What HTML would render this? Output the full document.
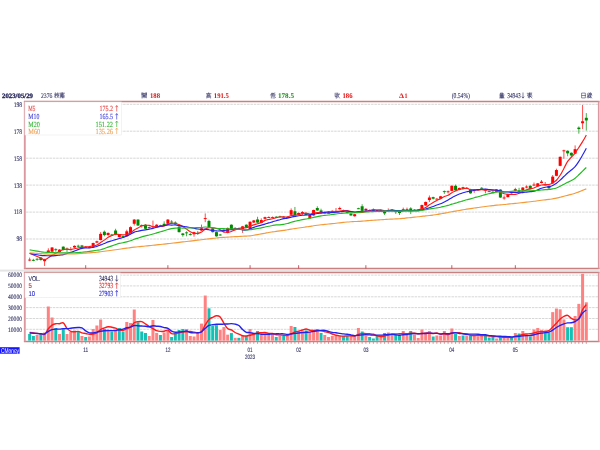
<!DOCTYPE html>
<html><head><meta charset="utf-8"><style>html,body{margin:0;padding:0;background:#fff;width:600px;height:450px;overflow:hidden}svg{display:block;filter:blur(0.35px)}text{text-rendering:geometricPrecision}</style></head>
<body><svg width="600" height="450" viewBox="0 0 600 450"><rect x="0" y="269.6" width="600" height="2" fill="#e4e4e4"/><line x1="26" y1="104.3" x2="598" y2="104.3" stroke="#cdcdcd" stroke-width="0.8" stroke-dasharray="2.5 0.85"/><text x="22.2" y="106.7" font-size="7" fill="#2b2b5e" text-anchor="end" font-weight="normal" font-family="Liberation Serif" textLength="8.55" lengthAdjust="spacingAndGlyphs" stroke="#2b2b5e" stroke-width="0.1">198</text><line x1="26" y1="131.2" x2="598" y2="131.2" stroke="#cdcdcd" stroke-width="0.8" stroke-dasharray="2.5 0.85"/><text x="22.2" y="133.64000000000001" font-size="7" fill="#2b2b5e" text-anchor="end" font-weight="normal" font-family="Liberation Serif" textLength="8.55" lengthAdjust="spacingAndGlyphs" stroke="#2b2b5e" stroke-width="0.1">178</text><line x1="26" y1="158.2" x2="598" y2="158.2" stroke="#cdcdcd" stroke-width="0.8" stroke-dasharray="2.5 0.85"/><text x="22.2" y="160.58" font-size="7" fill="#2b2b5e" text-anchor="end" font-weight="normal" font-family="Liberation Serif" textLength="8.55" lengthAdjust="spacingAndGlyphs" stroke="#2b2b5e" stroke-width="0.1">158</text><line x1="26" y1="185.1" x2="598" y2="185.1" stroke="#cdcdcd" stroke-width="0.8" stroke-dasharray="2.5 0.85"/><text x="22.2" y="187.52" font-size="7" fill="#2b2b5e" text-anchor="end" font-weight="normal" font-family="Liberation Serif" textLength="8.55" lengthAdjust="spacingAndGlyphs" stroke="#2b2b5e" stroke-width="0.1">138</text><line x1="26" y1="212.1" x2="598" y2="212.1" stroke="#cdcdcd" stroke-width="0.8" stroke-dasharray="2.5 0.85"/><text x="22.2" y="214.46" font-size="7" fill="#2b2b5e" text-anchor="end" font-weight="normal" font-family="Liberation Serif" textLength="8.55" lengthAdjust="spacingAndGlyphs" stroke="#2b2b5e" stroke-width="0.1">118</text><line x1="26" y1="239.0" x2="598" y2="239.0" stroke="#cdcdcd" stroke-width="0.8" stroke-dasharray="2.5 0.85"/><text x="22.2" y="241.4" font-size="7" fill="#2b2b5e" text-anchor="end" font-weight="normal" font-family="Liberation Serif" textLength="5.7" lengthAdjust="spacingAndGlyphs" stroke="#2b2b5e" stroke-width="0.1">98</text><line x1="26" y1="329.3" x2="598" y2="329.3" stroke="#cdcdcd" stroke-width="0.8" stroke-dasharray="2.5 0.85"/><text x="22" y="331.65" font-size="6.6" fill="#2b2b5e" text-anchor="end" font-weight="normal" font-family="Liberation Serif" textLength="14" lengthAdjust="spacingAndGlyphs" stroke="#2b2b5e" stroke-width="0.1">10000</text><line x1="26" y1="318.5" x2="598" y2="318.5" stroke="#cdcdcd" stroke-width="0.8" stroke-dasharray="2.5 0.85"/><text x="22" y="320.8" font-size="6.6" fill="#2b2b5e" text-anchor="end" font-weight="normal" font-family="Liberation Serif" textLength="14" lengthAdjust="spacingAndGlyphs" stroke="#2b2b5e" stroke-width="0.1">20000</text><line x1="26" y1="307.6" x2="598" y2="307.6" stroke="#cdcdcd" stroke-width="0.8" stroke-dasharray="2.5 0.85"/><text x="22" y="309.95" font-size="6.6" fill="#2b2b5e" text-anchor="end" font-weight="normal" font-family="Liberation Serif" textLength="14" lengthAdjust="spacingAndGlyphs" stroke="#2b2b5e" stroke-width="0.1">30000</text><line x1="26" y1="296.8" x2="598" y2="296.8" stroke="#cdcdcd" stroke-width="0.8" stroke-dasharray="2.5 0.85"/><text x="22" y="299.1" font-size="6.6" fill="#2b2b5e" text-anchor="end" font-weight="normal" font-family="Liberation Serif" textLength="14" lengthAdjust="spacingAndGlyphs" stroke="#2b2b5e" stroke-width="0.1">40000</text><line x1="26" y1="285.9" x2="598" y2="285.9" stroke="#cdcdcd" stroke-width="0.8" stroke-dasharray="2.5 0.85"/><text x="22" y="288.25" font-size="6.6" fill="#2b2b5e" text-anchor="end" font-weight="normal" font-family="Liberation Serif" textLength="14" lengthAdjust="spacingAndGlyphs" stroke="#2b2b5e" stroke-width="0.1">50000</text><line x1="26" y1="275.1" x2="598" y2="275.1" stroke="#cdcdcd" stroke-width="0.8" stroke-dasharray="2.5 0.85"/><text x="22" y="277.4" font-size="6.6" fill="#2b2b5e" text-anchor="end" font-weight="normal" font-family="Liberation Serif" textLength="14" lengthAdjust="spacingAndGlyphs" stroke="#2b2b5e" stroke-width="0.1">60000</text><line x1="23.9" y1="101.5" x2="599.6" y2="101.5" stroke="#c98080" stroke-width="1.3"/><line x1="23.9" y1="268.5" x2="599.6" y2="268.5" stroke="#c98080" stroke-width="1.3"/><line x1="24.8" y1="101.5" x2="24.8" y2="268.5" stroke="#dc98a0" stroke-width="1.9"/><line x1="598.7" y1="101.5" x2="598.7" y2="268.5" stroke="#dc98a0" stroke-width="1.6"/><line x1="23.9" y1="272.5" x2="599.6" y2="272.5" stroke="#c98080" stroke-width="1.3"/><line x1="23.9" y1="341.5" x2="599.6" y2="341.5" stroke="#c98080" stroke-width="1.3"/><line x1="24.8" y1="272.5" x2="24.8" y2="341.5" stroke="#dc98a0" stroke-width="1.9"/><line x1="598.7" y1="272.5" x2="598.7" y2="341.5" stroke="#dc98a0" stroke-width="1.6"/><line x1="33.39" y1="341.8" y2="343.9" x2="33.39" stroke="#c87a80" stroke-width="0.75"/><line x1="37.12" y1="341.8" y2="343.9" x2="37.12" stroke="#c87a80" stroke-width="0.75"/><line x1="40.86" y1="341.8" y2="343.9" x2="40.86" stroke="#c87a80" stroke-width="0.75"/><line x1="44.59" y1="341.8" y2="343.9" x2="44.59" stroke="#c87a80" stroke-width="0.75"/><line x1="48.33" y1="341.8" y2="343.9" x2="48.33" stroke="#c87a80" stroke-width="0.75"/><line x1="52.07" y1="341.8" y2="343.9" x2="52.07" stroke="#c87a80" stroke-width="0.75"/><line x1="55.80" y1="341.8" y2="343.9" x2="55.80" stroke="#c87a80" stroke-width="0.75"/><line x1="59.54" y1="341.8" y2="343.9" x2="59.54" stroke="#c87a80" stroke-width="0.75"/><line x1="63.27" y1="341.8" y2="343.9" x2="63.27" stroke="#c87a80" stroke-width="0.75"/><line x1="67.01" y1="341.8" y2="343.9" x2="67.01" stroke="#c87a80" stroke-width="0.75"/><line x1="70.75" y1="341.8" y2="343.9" x2="70.75" stroke="#c87a80" stroke-width="0.75"/><line x1="74.48" y1="341.8" y2="343.9" x2="74.48" stroke="#c87a80" stroke-width="0.75"/><line x1="78.22" y1="341.8" y2="343.9" x2="78.22" stroke="#c87a80" stroke-width="0.75"/><line x1="81.95" y1="341.8" y2="343.9" x2="81.95" stroke="#c87a80" stroke-width="0.75"/><line x1="85.69" y1="341.8" y2="343.9" x2="85.69" stroke="#c87a80" stroke-width="0.75"/><line x1="89.43" y1="341.8" y2="343.9" x2="89.43" stroke="#c87a80" stroke-width="0.75"/><line x1="93.16" y1="341.8" y2="343.9" x2="93.16" stroke="#c87a80" stroke-width="0.75"/><line x1="96.90" y1="341.8" y2="343.9" x2="96.90" stroke="#c87a80" stroke-width="0.75"/><line x1="100.63" y1="341.8" y2="343.9" x2="100.63" stroke="#c87a80" stroke-width="0.75"/><line x1="104.37" y1="341.8" y2="343.9" x2="104.37" stroke="#c87a80" stroke-width="0.75"/><line x1="108.11" y1="341.8" y2="343.9" x2="108.11" stroke="#c87a80" stroke-width="0.75"/><line x1="111.84" y1="341.8" y2="343.9" x2="111.84" stroke="#c87a80" stroke-width="0.75"/><line x1="115.58" y1="341.8" y2="343.9" x2="115.58" stroke="#c87a80" stroke-width="0.75"/><line x1="119.31" y1="341.8" y2="343.9" x2="119.31" stroke="#c87a80" stroke-width="0.75"/><line x1="123.05" y1="341.8" y2="343.9" x2="123.05" stroke="#c87a80" stroke-width="0.75"/><line x1="126.79" y1="341.8" y2="343.9" x2="126.79" stroke="#c87a80" stroke-width="0.75"/><line x1="130.52" y1="341.8" y2="343.9" x2="130.52" stroke="#c87a80" stroke-width="0.75"/><line x1="134.26" y1="341.8" y2="343.9" x2="134.26" stroke="#c87a80" stroke-width="0.75"/><line x1="137.99" y1="341.8" y2="343.9" x2="137.99" stroke="#c87a80" stroke-width="0.75"/><line x1="141.73" y1="341.8" y2="343.9" x2="141.73" stroke="#c87a80" stroke-width="0.75"/><line x1="145.47" y1="341.8" y2="343.9" x2="145.47" stroke="#c87a80" stroke-width="0.75"/><line x1="149.20" y1="341.8" y2="343.9" x2="149.20" stroke="#c87a80" stroke-width="0.75"/><line x1="152.94" y1="341.8" y2="343.9" x2="152.94" stroke="#c87a80" stroke-width="0.75"/><line x1="156.67" y1="341.8" y2="343.9" x2="156.67" stroke="#c87a80" stroke-width="0.75"/><line x1="160.41" y1="341.8" y2="343.9" x2="160.41" stroke="#c87a80" stroke-width="0.75"/><line x1="164.15" y1="341.8" y2="343.9" x2="164.15" stroke="#c87a80" stroke-width="0.75"/><line x1="167.88" y1="341.8" y2="343.9" x2="167.88" stroke="#c87a80" stroke-width="0.75"/><line x1="171.62" y1="341.8" y2="343.9" x2="171.62" stroke="#c87a80" stroke-width="0.75"/><line x1="175.35" y1="341.8" y2="343.9" x2="175.35" stroke="#c87a80" stroke-width="0.75"/><line x1="179.09" y1="341.8" y2="343.9" x2="179.09" stroke="#c87a80" stroke-width="0.75"/><line x1="182.83" y1="341.8" y2="343.9" x2="182.83" stroke="#c87a80" stroke-width="0.75"/><line x1="186.56" y1="341.8" y2="343.9" x2="186.56" stroke="#c87a80" stroke-width="0.75"/><line x1="190.30" y1="341.8" y2="343.9" x2="190.30" stroke="#c87a80" stroke-width="0.75"/><line x1="194.03" y1="341.8" y2="343.9" x2="194.03" stroke="#c87a80" stroke-width="0.75"/><line x1="197.77" y1="341.8" y2="343.9" x2="197.77" stroke="#c87a80" stroke-width="0.75"/><line x1="201.51" y1="341.8" y2="343.9" x2="201.51" stroke="#c87a80" stroke-width="0.75"/><line x1="205.24" y1="341.8" y2="343.9" x2="205.24" stroke="#c87a80" stroke-width="0.75"/><line x1="208.98" y1="341.8" y2="343.9" x2="208.98" stroke="#c87a80" stroke-width="0.75"/><line x1="212.71" y1="341.8" y2="343.9" x2="212.71" stroke="#c87a80" stroke-width="0.75"/><line x1="216.45" y1="341.8" y2="343.9" x2="216.45" stroke="#c87a80" stroke-width="0.75"/><line x1="220.19" y1="341.8" y2="343.9" x2="220.19" stroke="#c87a80" stroke-width="0.75"/><line x1="223.92" y1="341.8" y2="343.9" x2="223.92" stroke="#c87a80" stroke-width="0.75"/><line x1="227.66" y1="341.8" y2="343.9" x2="227.66" stroke="#c87a80" stroke-width="0.75"/><line x1="231.39" y1="341.8" y2="343.9" x2="231.39" stroke="#c87a80" stroke-width="0.75"/><line x1="235.13" y1="341.8" y2="343.9" x2="235.13" stroke="#c87a80" stroke-width="0.75"/><line x1="238.87" y1="341.8" y2="343.9" x2="238.87" stroke="#c87a80" stroke-width="0.75"/><line x1="242.60" y1="341.8" y2="343.9" x2="242.60" stroke="#c87a80" stroke-width="0.75"/><line x1="246.34" y1="341.8" y2="343.9" x2="246.34" stroke="#c87a80" stroke-width="0.75"/><line x1="250.07" y1="341.8" y2="343.9" x2="250.07" stroke="#c87a80" stroke-width="0.75"/><line x1="253.81" y1="341.8" y2="343.9" x2="253.81" stroke="#c87a80" stroke-width="0.75"/><line x1="257.55" y1="341.8" y2="343.9" x2="257.55" stroke="#c87a80" stroke-width="0.75"/><line x1="261.28" y1="341.8" y2="343.9" x2="261.28" stroke="#c87a80" stroke-width="0.75"/><line x1="265.02" y1="341.8" y2="343.9" x2="265.02" stroke="#c87a80" stroke-width="0.75"/><line x1="268.75" y1="341.8" y2="343.9" x2="268.75" stroke="#c87a80" stroke-width="0.75"/><line x1="272.49" y1="341.8" y2="343.9" x2="272.49" stroke="#c87a80" stroke-width="0.75"/><line x1="276.23" y1="341.8" y2="343.9" x2="276.23" stroke="#c87a80" stroke-width="0.75"/><line x1="279.96" y1="341.8" y2="343.9" x2="279.96" stroke="#c87a80" stroke-width="0.75"/><line x1="283.70" y1="341.8" y2="343.9" x2="283.70" stroke="#c87a80" stroke-width="0.75"/><line x1="287.43" y1="341.8" y2="343.9" x2="287.43" stroke="#c87a80" stroke-width="0.75"/><line x1="291.17" y1="341.8" y2="343.9" x2="291.17" stroke="#c87a80" stroke-width="0.75"/><line x1="294.91" y1="341.8" y2="343.9" x2="294.91" stroke="#c87a80" stroke-width="0.75"/><line x1="298.64" y1="341.8" y2="343.9" x2="298.64" stroke="#c87a80" stroke-width="0.75"/><line x1="302.38" y1="341.8" y2="343.9" x2="302.38" stroke="#c87a80" stroke-width="0.75"/><line x1="306.11" y1="341.8" y2="343.9" x2="306.11" stroke="#c87a80" stroke-width="0.75"/><line x1="309.85" y1="341.8" y2="343.9" x2="309.85" stroke="#c87a80" stroke-width="0.75"/><line x1="313.59" y1="341.8" y2="343.9" x2="313.59" stroke="#c87a80" stroke-width="0.75"/><line x1="317.32" y1="341.8" y2="343.9" x2="317.32" stroke="#c87a80" stroke-width="0.75"/><line x1="321.06" y1="341.8" y2="343.9" x2="321.06" stroke="#c87a80" stroke-width="0.75"/><line x1="324.79" y1="341.8" y2="343.9" x2="324.79" stroke="#c87a80" stroke-width="0.75"/><line x1="328.53" y1="341.8" y2="343.9" x2="328.53" stroke="#c87a80" stroke-width="0.75"/><line x1="332.27" y1="341.8" y2="343.9" x2="332.27" stroke="#c87a80" stroke-width="0.75"/><line x1="336.00" y1="341.8" y2="343.9" x2="336.00" stroke="#c87a80" stroke-width="0.75"/><line x1="339.74" y1="341.8" y2="343.9" x2="339.74" stroke="#c87a80" stroke-width="0.75"/><line x1="343.47" y1="341.8" y2="343.9" x2="343.47" stroke="#c87a80" stroke-width="0.75"/><line x1="347.21" y1="341.8" y2="343.9" x2="347.21" stroke="#c87a80" stroke-width="0.75"/><line x1="350.95" y1="341.8" y2="343.9" x2="350.95" stroke="#c87a80" stroke-width="0.75"/><line x1="354.68" y1="341.8" y2="343.9" x2="354.68" stroke="#c87a80" stroke-width="0.75"/><line x1="358.42" y1="341.8" y2="343.9" x2="358.42" stroke="#c87a80" stroke-width="0.75"/><line x1="362.15" y1="341.8" y2="343.9" x2="362.15" stroke="#c87a80" stroke-width="0.75"/><line x1="365.89" y1="341.8" y2="343.9" x2="365.89" stroke="#c87a80" stroke-width="0.75"/><line x1="369.63" y1="341.8" y2="343.9" x2="369.63" stroke="#c87a80" stroke-width="0.75"/><line x1="373.36" y1="341.8" y2="343.9" x2="373.36" stroke="#c87a80" stroke-width="0.75"/><line x1="377.10" y1="341.8" y2="343.9" x2="377.10" stroke="#c87a80" stroke-width="0.75"/><line x1="380.83" y1="341.8" y2="343.9" x2="380.83" stroke="#c87a80" stroke-width="0.75"/><line x1="384.57" y1="341.8" y2="343.9" x2="384.57" stroke="#c87a80" stroke-width="0.75"/><line x1="388.31" y1="341.8" y2="343.9" x2="388.31" stroke="#c87a80" stroke-width="0.75"/><line x1="392.04" y1="341.8" y2="343.9" x2="392.04" stroke="#c87a80" stroke-width="0.75"/><line x1="395.78" y1="341.8" y2="343.9" x2="395.78" stroke="#c87a80" stroke-width="0.75"/><line x1="399.51" y1="341.8" y2="343.9" x2="399.51" stroke="#c87a80" stroke-width="0.75"/><line x1="403.25" y1="341.8" y2="343.9" x2="403.25" stroke="#c87a80" stroke-width="0.75"/><line x1="406.99" y1="341.8" y2="343.9" x2="406.99" stroke="#c87a80" stroke-width="0.75"/><line x1="410.72" y1="341.8" y2="343.9" x2="410.72" stroke="#c87a80" stroke-width="0.75"/><line x1="414.46" y1="341.8" y2="343.9" x2="414.46" stroke="#c87a80" stroke-width="0.75"/><line x1="418.19" y1="341.8" y2="343.9" x2="418.19" stroke="#c87a80" stroke-width="0.75"/><line x1="421.93" y1="341.8" y2="343.9" x2="421.93" stroke="#c87a80" stroke-width="0.75"/><line x1="425.67" y1="341.8" y2="343.9" x2="425.67" stroke="#c87a80" stroke-width="0.75"/><line x1="429.40" y1="341.8" y2="343.9" x2="429.40" stroke="#c87a80" stroke-width="0.75"/><line x1="433.14" y1="341.8" y2="343.9" x2="433.14" stroke="#c87a80" stroke-width="0.75"/><line x1="436.87" y1="341.8" y2="343.9" x2="436.87" stroke="#c87a80" stroke-width="0.75"/><line x1="440.61" y1="341.8" y2="343.9" x2="440.61" stroke="#c87a80" stroke-width="0.75"/><line x1="444.35" y1="341.8" y2="343.9" x2="444.35" stroke="#c87a80" stroke-width="0.75"/><line x1="448.08" y1="341.8" y2="343.9" x2="448.08" stroke="#c87a80" stroke-width="0.75"/><line x1="451.82" y1="341.8" y2="343.9" x2="451.82" stroke="#c87a80" stroke-width="0.75"/><line x1="455.55" y1="341.8" y2="343.9" x2="455.55" stroke="#c87a80" stroke-width="0.75"/><line x1="459.29" y1="341.8" y2="343.9" x2="459.29" stroke="#c87a80" stroke-width="0.75"/><line x1="463.03" y1="341.8" y2="343.9" x2="463.03" stroke="#c87a80" stroke-width="0.75"/><line x1="466.76" y1="341.8" y2="343.9" x2="466.76" stroke="#c87a80" stroke-width="0.75"/><line x1="470.50" y1="341.8" y2="343.9" x2="470.50" stroke="#c87a80" stroke-width="0.75"/><line x1="474.23" y1="341.8" y2="343.9" x2="474.23" stroke="#c87a80" stroke-width="0.75"/><line x1="477.97" y1="341.8" y2="343.9" x2="477.97" stroke="#c87a80" stroke-width="0.75"/><line x1="481.71" y1="341.8" y2="343.9" x2="481.71" stroke="#c87a80" stroke-width="0.75"/><line x1="485.44" y1="341.8" y2="343.9" x2="485.44" stroke="#c87a80" stroke-width="0.75"/><line x1="489.18" y1="341.8" y2="343.9" x2="489.18" stroke="#c87a80" stroke-width="0.75"/><line x1="492.91" y1="341.8" y2="343.9" x2="492.91" stroke="#c87a80" stroke-width="0.75"/><line x1="496.65" y1="341.8" y2="343.9" x2="496.65" stroke="#c87a80" stroke-width="0.75"/><line x1="500.39" y1="341.8" y2="343.9" x2="500.39" stroke="#c87a80" stroke-width="0.75"/><line x1="504.12" y1="341.8" y2="343.9" x2="504.12" stroke="#c87a80" stroke-width="0.75"/><line x1="507.86" y1="341.8" y2="343.9" x2="507.86" stroke="#c87a80" stroke-width="0.75"/><line x1="511.59" y1="341.8" y2="343.9" x2="511.59" stroke="#c87a80" stroke-width="0.75"/><line x1="515.33" y1="341.8" y2="343.9" x2="515.33" stroke="#c87a80" stroke-width="0.75"/><line x1="519.07" y1="341.8" y2="343.9" x2="519.07" stroke="#c87a80" stroke-width="0.75"/><line x1="522.80" y1="341.8" y2="343.9" x2="522.80" stroke="#c87a80" stroke-width="0.75"/><line x1="526.54" y1="341.8" y2="343.9" x2="526.54" stroke="#c87a80" stroke-width="0.75"/><line x1="530.27" y1="341.8" y2="343.9" x2="530.27" stroke="#c87a80" stroke-width="0.75"/><line x1="534.01" y1="341.8" y2="343.9" x2="534.01" stroke="#c87a80" stroke-width="0.75"/><line x1="537.75" y1="341.8" y2="343.9" x2="537.75" stroke="#c87a80" stroke-width="0.75"/><line x1="541.48" y1="341.8" y2="343.9" x2="541.48" stroke="#c87a80" stroke-width="0.75"/><line x1="545.22" y1="341.8" y2="343.9" x2="545.22" stroke="#c87a80" stroke-width="0.75"/><line x1="548.95" y1="341.8" y2="343.9" x2="548.95" stroke="#c87a80" stroke-width="0.75"/><line x1="552.69" y1="341.8" y2="343.9" x2="552.69" stroke="#c87a80" stroke-width="0.75"/><line x1="556.43" y1="341.8" y2="343.9" x2="556.43" stroke="#c87a80" stroke-width="0.75"/><line x1="560.16" y1="341.8" y2="343.9" x2="560.16" stroke="#c87a80" stroke-width="0.75"/><line x1="563.90" y1="341.8" y2="343.9" x2="563.90" stroke="#c87a80" stroke-width="0.75"/><line x1="567.63" y1="341.8" y2="343.9" x2="567.63" stroke="#c87a80" stroke-width="0.75"/><line x1="571.37" y1="341.8" y2="343.9" x2="571.37" stroke="#c87a80" stroke-width="0.75"/><line x1="575.11" y1="341.8" y2="343.9" x2="575.11" stroke="#c87a80" stroke-width="0.75"/><line x1="578.84" y1="341.8" y2="343.9" x2="578.84" stroke="#c87a80" stroke-width="0.75"/><line x1="582.58" y1="341.8" y2="343.9" x2="582.58" stroke="#c87a80" stroke-width="0.75"/><line x1="586.31" y1="341.8" y2="343.9" x2="586.31" stroke="#c87a80" stroke-width="0.75"/><line x1="85.69" y1="265.2" x2="85.69" y2="268.6" stroke="#c04050" stroke-width="0.85"/><line x1="167.88" y1="265.2" x2="167.88" y2="268.6" stroke="#c04050" stroke-width="0.85"/><line x1="250.07" y1="265.2" x2="250.07" y2="268.6" stroke="#c04050" stroke-width="0.85"/><line x1="298.64" y1="265.2" x2="298.64" y2="268.6" stroke="#c04050" stroke-width="0.85"/><line x1="365.89" y1="265.2" x2="365.89" y2="268.6" stroke="#c04050" stroke-width="0.85"/><line x1="451.82" y1="265.2" x2="451.82" y2="268.6" stroke="#c04050" stroke-width="0.85"/><line x1="515.33" y1="265.2" x2="515.33" y2="268.6" stroke="#c04050" stroke-width="0.85"/><text x="85.69" y="351.5" font-size="6.5" fill="#2b2b5e" text-anchor="middle" font-weight="normal" font-family="Liberation Sans" textLength="5" lengthAdjust="spacingAndGlyphs" stroke="#2b2b5e" stroke-width="0.1">11</text><text x="167.882" y="351.5" font-size="6.5" fill="#2b2b5e" text-anchor="middle" font-weight="normal" font-family="Liberation Sans" textLength="5" lengthAdjust="spacingAndGlyphs" stroke="#2b2b5e" stroke-width="0.1">12</text><text x="250.074" y="351.5" font-size="6.5" fill="#2b2b5e" text-anchor="middle" font-weight="normal" font-family="Liberation Sans" textLength="5" lengthAdjust="spacingAndGlyphs" stroke="#2b2b5e" stroke-width="0.1">01</text><text x="298.642" y="351.5" font-size="6.5" fill="#2b2b5e" text-anchor="middle" font-weight="normal" font-family="Liberation Sans" textLength="5" lengthAdjust="spacingAndGlyphs" stroke="#2b2b5e" stroke-width="0.1">02</text><text x="365.89" y="351.5" font-size="6.5" fill="#2b2b5e" text-anchor="middle" font-weight="normal" font-family="Liberation Sans" textLength="5" lengthAdjust="spacingAndGlyphs" stroke="#2b2b5e" stroke-width="0.1">03</text><text x="451.818" y="351.5" font-size="6.5" fill="#2b2b5e" text-anchor="middle" font-weight="normal" font-family="Liberation Sans" textLength="5" lengthAdjust="spacingAndGlyphs" stroke="#2b2b5e" stroke-width="0.1">04</text><text x="515.33" y="351.5" font-size="6.5" fill="#2b2b5e" text-anchor="middle" font-weight="normal" font-family="Liberation Sans" textLength="5" lengthAdjust="spacingAndGlyphs" stroke="#2b2b5e" stroke-width="0.1">05</text><text x="250.074" y="358.5" font-size="6.5" fill="#2b2b5e" text-anchor="middle" font-weight="normal" font-family="Liberation Sans" textLength="10" lengthAdjust="spacingAndGlyphs" stroke="#2b2b5e" stroke-width="0.1">2023</text><line x1="29.65" y1="257.59" x2="29.65" y2="261.23" stroke="#ff0000" stroke-width="0.7"/><rect x="28.15" y="259.61" width="3" height="0.90" fill="#ff0000"/><line x1="33.39" y1="258.80" x2="33.39" y2="261.23" stroke="#008a00" stroke-width="0.7"/><rect x="31.89" y="259.88" width="3" height="0.90" fill="#008a00"/><line x1="37.12" y1="258.13" x2="37.12" y2="260.69" stroke="#008a00" stroke-width="0.7"/><rect x="35.62" y="258.80" width="3" height="0.90" fill="#008a00"/><line x1="40.86" y1="257.18" x2="40.86" y2="260.69" stroke="#008a00" stroke-width="0.7"/><rect x="39.36" y="257.59" width="3" height="2.42" fill="#008a00"/><line x1="44.59" y1="258.67" x2="44.59" y2="265.94" stroke="#ff0000" stroke-width="0.7"/><rect x="43.09" y="259.20" width="3" height="2.02" fill="#ff0000"/><line x1="48.33" y1="248.29" x2="48.33" y2="252.47" stroke="#ff0000" stroke-width="0.7"/><rect x="46.83" y="250.45" width="3" height="1.62" fill="#ff0000"/><line x1="52.07" y1="247.08" x2="52.07" y2="252.07" stroke="#ff0000" stroke-width="0.7"/><rect x="50.57" y="247.49" width="3" height="4.18" fill="#ff0000"/><line x1="55.80" y1="248.29" x2="55.80" y2="251.66" stroke="#008a00" stroke-width="0.7"/><rect x="54.30" y="249.24" width="3" height="0.90" fill="#008a00"/><line x1="59.54" y1="249.10" x2="59.54" y2="252.47" stroke="#ff0000" stroke-width="0.7"/><rect x="58.04" y="249.64" width="3" height="2.42" fill="#ff0000"/><line x1="63.27" y1="246.27" x2="63.27" y2="250.45" stroke="#008a00" stroke-width="0.7"/><rect x="61.77" y="246.68" width="3" height="3.37" fill="#008a00"/><line x1="67.01" y1="247.49" x2="67.01" y2="252.07" stroke="#008a00" stroke-width="0.7"/><rect x="65.51" y="248.70" width="3" height="0.90" fill="#008a00"/><line x1="70.75" y1="247.08" x2="70.75" y2="250.45" stroke="#ff0000" stroke-width="0.7"/><rect x="69.25" y="249.24" width="3" height="0.90" fill="#ff0000"/><line x1="74.48" y1="245.33" x2="74.48" y2="247.89" stroke="#ff0000" stroke-width="0.7"/><rect x="72.98" y="245.87" width="3" height="1.62" fill="#ff0000"/><line x1="78.22" y1="244.66" x2="78.22" y2="247.62" stroke="#008a00" stroke-width="0.7"/><rect x="76.72" y="245.74" width="3" height="0.90" fill="#008a00"/><line x1="81.95" y1="244.93" x2="81.95" y2="247.22" stroke="#008a00" stroke-width="0.7"/><rect x="80.45" y="245.47" width="3" height="1.35" fill="#008a00"/><line x1="85.69" y1="246.27" x2="85.69" y2="247.35" stroke="#ff0000" stroke-width="0.7"/><rect x="84.19" y="246.81" width="3" height="0.90" fill="#ff0000"/><line x1="89.43" y1="246.54" x2="89.43" y2="247.76" stroke="#ff0000" stroke-width="0.7"/><rect x="87.93" y="247.22" width="3" height="0.90" fill="#ff0000"/><line x1="93.16" y1="242.64" x2="93.16" y2="247.22" stroke="#ff0000" stroke-width="0.7"/><rect x="91.66" y="243.04" width="3" height="3.77" fill="#ff0000"/><line x1="96.90" y1="240.62" x2="96.90" y2="243.04" stroke="#ff0000" stroke-width="0.7"/><rect x="95.40" y="241.29" width="3" height="1.35" fill="#ff0000"/><line x1="100.63" y1="232.13" x2="100.63" y2="240.35" stroke="#ff0000" stroke-width="0.7"/><rect x="99.13" y="233.88" width="3" height="6.20" fill="#ff0000"/><line x1="104.37" y1="230.51" x2="104.37" y2="236.31" stroke="#008a00" stroke-width="0.7"/><rect x="102.87" y="231.73" width="3" height="3.37" fill="#008a00"/><line x1="108.11" y1="232.40" x2="108.11" y2="235.63" stroke="#ff0000" stroke-width="0.7"/><rect x="106.61" y="232.94" width="3" height="2.16" fill="#ff0000"/><line x1="111.84" y1="233.88" x2="111.84" y2="235.36" stroke="#008a00" stroke-width="0.7"/><rect x="110.34" y="234.55" width="3" height="0.90" fill="#008a00"/><line x1="115.58" y1="228.76" x2="115.58" y2="235.09" stroke="#008a00" stroke-width="0.7"/><rect x="114.08" y="230.51" width="3" height="4.18" fill="#008a00"/><line x1="119.31" y1="234.29" x2="119.31" y2="237.65" stroke="#ff0000" stroke-width="0.7"/><rect x="117.81" y="234.96" width="3" height="2.16" fill="#ff0000"/><line x1="123.05" y1="235.63" x2="123.05" y2="237.25" stroke="#008a00" stroke-width="0.7"/><rect x="121.55" y="236.04" width="3" height="0.90" fill="#008a00"/><line x1="126.79" y1="229.71" x2="126.79" y2="236.71" stroke="#ff0000" stroke-width="0.7"/><rect x="125.29" y="231.32" width="3" height="4.98" fill="#ff0000"/><line x1="130.52" y1="226.34" x2="130.52" y2="233.34" stroke="#ff0000" stroke-width="0.7"/><rect x="129.02" y="227.15" width="3" height="5.79" fill="#ff0000"/><line x1="134.26" y1="219.06" x2="134.26" y2="225.53" stroke="#ff0000" stroke-width="0.7"/><rect x="132.76" y="219.60" width="3" height="4.18" fill="#ff0000"/><line x1="137.99" y1="219.20" x2="137.99" y2="225.93" stroke="#008a00" stroke-width="0.7"/><rect x="136.49" y="219.60" width="3" height="5.93" fill="#008a00"/><line x1="141.73" y1="224.45" x2="141.73" y2="227.55" stroke="#008a00" stroke-width="0.7"/><rect x="140.23" y="225.13" width="3" height="0.90" fill="#008a00"/><line x1="145.47" y1="224.18" x2="145.47" y2="229.17" stroke="#008a00" stroke-width="0.7"/><rect x="143.97" y="224.72" width="3" height="4.04" fill="#008a00"/><line x1="149.20" y1="226.61" x2="149.20" y2="228.49" stroke="#ff0000" stroke-width="0.7"/><rect x="147.70" y="227.15" width="3" height="0.90" fill="#ff0000"/><line x1="152.94" y1="220.55" x2="152.94" y2="227.28" stroke="#ff0000" stroke-width="0.7"/><rect x="151.44" y="226.61" width="3" height="0.90" fill="#ff0000"/><line x1="156.67" y1="224.18" x2="156.67" y2="227.55" stroke="#ff0000" stroke-width="0.7"/><rect x="155.17" y="224.72" width="3" height="2.42" fill="#ff0000"/><line x1="160.41" y1="224.72" x2="160.41" y2="226.07" stroke="#008a00" stroke-width="0.7"/><rect x="158.91" y="225.26" width="3" height="0.90" fill="#008a00"/><line x1="164.15" y1="221.35" x2="164.15" y2="225.93" stroke="#008a00" stroke-width="0.7"/><rect x="162.65" y="223.78" width="3" height="1.75" fill="#008a00"/><line x1="167.88" y1="219.06" x2="167.88" y2="224.18" stroke="#ff0000" stroke-width="0.7"/><rect x="166.38" y="219.60" width="3" height="4.18" fill="#ff0000"/><line x1="171.62" y1="220.14" x2="171.62" y2="222.84" stroke="#008a00" stroke-width="0.7"/><rect x="170.12" y="221.62" width="3" height="0.90" fill="#008a00"/><line x1="175.35" y1="221.35" x2="175.35" y2="224.59" stroke="#008a00" stroke-width="0.7"/><rect x="173.85" y="222.57" width="3" height="1.62" fill="#008a00"/><line x1="179.09" y1="226.20" x2="179.09" y2="232.53" stroke="#008a00" stroke-width="0.7"/><rect x="177.59" y="226.74" width="3" height="5.39" fill="#008a00"/><line x1="182.83" y1="232.94" x2="182.83" y2="236.71" stroke="#008a00" stroke-width="0.7"/><rect x="181.33" y="233.48" width="3" height="1.62" fill="#008a00"/><line x1="186.56" y1="231.32" x2="186.56" y2="236.31" stroke="#008a00" stroke-width="0.7"/><rect x="185.06" y="232.40" width="3" height="0.90" fill="#008a00"/><line x1="190.30" y1="233.07" x2="190.30" y2="235.50" stroke="#008a00" stroke-width="0.7"/><rect x="188.80" y="234.15" width="3" height="0.90" fill="#008a00"/><line x1="194.03" y1="231.73" x2="194.03" y2="236.71" stroke="#ff0000" stroke-width="0.7"/><rect x="192.53" y="232.13" width="3" height="2.16" fill="#ff0000"/><line x1="197.77" y1="230.92" x2="197.77" y2="234.96" stroke="#008a00" stroke-width="0.7"/><rect x="196.27" y="232.80" width="3" height="0.90" fill="#008a00"/><line x1="201.51" y1="224.59" x2="201.51" y2="230.92" stroke="#ff0000" stroke-width="0.7"/><rect x="200.01" y="228.36" width="3" height="2.16" fill="#ff0000"/><line x1="205.24" y1="213.41" x2="205.24" y2="222.16" stroke="#ff0000" stroke-width="0.7"/><rect x="203.74" y="217.99" width="3" height="0.90" fill="#ff0000"/><line x1="208.98" y1="219.74" x2="208.98" y2="227.95" stroke="#008a00" stroke-width="0.7"/><rect x="207.48" y="220.95" width="3" height="6.60" fill="#008a00"/><line x1="212.71" y1="227.95" x2="212.71" y2="232.53" stroke="#008a00" stroke-width="0.7"/><rect x="211.21" y="228.36" width="3" height="3.77" fill="#008a00"/><line x1="216.45" y1="231.73" x2="216.45" y2="236.71" stroke="#008a00" stroke-width="0.7"/><rect x="214.95" y="232.13" width="3" height="4.18" fill="#008a00"/><line x1="220.19" y1="233.88" x2="220.19" y2="235.63" stroke="#008a00" stroke-width="0.7"/><rect x="218.69" y="234.55" width="3" height="0.90" fill="#008a00"/><line x1="223.92" y1="229.30" x2="223.92" y2="231.73" stroke="#ff0000" stroke-width="0.7"/><rect x="222.42" y="229.71" width="3" height="1.62" fill="#ff0000"/><line x1="227.66" y1="227.55" x2="227.66" y2="233.34" stroke="#ff0000" stroke-width="0.7"/><rect x="226.16" y="227.95" width="3" height="4.98" fill="#ff0000"/><line x1="231.39" y1="224.32" x2="231.39" y2="229.30" stroke="#008a00" stroke-width="0.7"/><rect x="229.89" y="224.72" width="3" height="4.18" fill="#008a00"/><line x1="235.13" y1="227.15" x2="235.13" y2="228.76" stroke="#ff0000" stroke-width="0.7"/><rect x="233.63" y="227.95" width="3" height="0.90" fill="#ff0000"/><line x1="238.87" y1="227.55" x2="238.87" y2="228.90" stroke="#ff0000" stroke-width="0.7"/><rect x="237.37" y="228.22" width="3" height="0.90" fill="#ff0000"/><line x1="242.60" y1="225.93" x2="242.60" y2="232.94" stroke="#ff0000" stroke-width="0.7"/><rect x="241.10" y="226.34" width="3" height="2.83" fill="#ff0000"/><line x1="246.34" y1="224.32" x2="246.34" y2="227.95" stroke="#008a00" stroke-width="0.7"/><rect x="244.84" y="224.72" width="3" height="2.83" fill="#008a00"/><line x1="250.07" y1="221.35" x2="250.07" y2="229.57" stroke="#ff0000" stroke-width="0.7"/><rect x="248.57" y="221.76" width="3" height="7.41" fill="#ff0000"/><line x1="253.81" y1="220.01" x2="253.81" y2="222.97" stroke="#ff0000" stroke-width="0.7"/><rect x="252.31" y="220.41" width="3" height="2.16" fill="#ff0000"/><line x1="257.55" y1="216.77" x2="257.55" y2="222.97" stroke="#008a00" stroke-width="0.7"/><rect x="256.05" y="219.47" width="3" height="3.10" fill="#008a00"/><line x1="261.28" y1="218.39" x2="261.28" y2="223.37" stroke="#ff0000" stroke-width="0.7"/><rect x="259.78" y="220.01" width="3" height="2.96" fill="#ff0000"/><line x1="265.02" y1="216.64" x2="265.02" y2="219.20" stroke="#ff0000" stroke-width="0.7"/><rect x="263.52" y="217.18" width="3" height="1.62" fill="#ff0000"/><line x1="268.75" y1="216.37" x2="268.75" y2="217.72" stroke="#ff0000" stroke-width="0.7"/><rect x="267.25" y="217.04" width="3" height="0.90" fill="#ff0000"/><line x1="272.49" y1="216.51" x2="272.49" y2="217.85" stroke="#ff0000" stroke-width="0.7"/><rect x="270.99" y="217.18" width="3" height="0.90" fill="#ff0000"/><line x1="276.23" y1="216.10" x2="276.23" y2="217.58" stroke="#008a00" stroke-width="0.7"/><rect x="274.73" y="216.77" width="3" height="0.90" fill="#008a00"/><line x1="279.96" y1="215.70" x2="279.96" y2="217.18" stroke="#008a00" stroke-width="0.7"/><rect x="278.46" y="216.37" width="3" height="0.90" fill="#008a00"/><line x1="283.70" y1="216.10" x2="283.70" y2="217.58" stroke="#008a00" stroke-width="0.7"/><rect x="282.20" y="216.77" width="3" height="0.90" fill="#008a00"/><line x1="287.43" y1="216.51" x2="287.43" y2="217.85" stroke="#ff0000" stroke-width="0.7"/><rect x="285.93" y="217.18" width="3" height="0.90" fill="#ff0000"/><line x1="291.17" y1="208.42" x2="291.17" y2="215.16" stroke="#ff0000" stroke-width="0.7"/><rect x="289.67" y="210.17" width="3" height="4.58" fill="#ff0000"/><line x1="294.91" y1="206.94" x2="294.91" y2="215.83" stroke="#008a00" stroke-width="0.7"/><rect x="293.41" y="211.25" width="3" height="4.18" fill="#008a00"/><line x1="298.64" y1="212.46" x2="298.64" y2="215.02" stroke="#ff0000" stroke-width="0.7"/><rect x="297.14" y="213.00" width="3" height="1.62" fill="#ff0000"/><line x1="302.38" y1="211.12" x2="302.38" y2="215.02" stroke="#ff0000" stroke-width="0.7"/><rect x="300.88" y="212.06" width="3" height="1.35" fill="#ff0000"/><line x1="306.11" y1="212.60" x2="306.11" y2="215.43" stroke="#008a00" stroke-width="0.7"/><rect x="304.61" y="213.00" width="3" height="2.02" fill="#008a00"/><line x1="309.85" y1="214.62" x2="309.85" y2="218.80" stroke="#ff0000" stroke-width="0.7"/><rect x="308.35" y="215.02" width="3" height="3.37" fill="#ff0000"/><line x1="313.59" y1="209.64" x2="313.59" y2="215.83" stroke="#ff0000" stroke-width="0.7"/><rect x="312.09" y="210.04" width="3" height="5.39" fill="#ff0000"/><line x1="317.32" y1="206.27" x2="317.32" y2="210.85" stroke="#008a00" stroke-width="0.7"/><rect x="315.82" y="208.02" width="3" height="2.42" fill="#008a00"/><line x1="321.06" y1="208.69" x2="321.06" y2="213.00" stroke="#008a00" stroke-width="0.7"/><rect x="319.56" y="210.44" width="3" height="2.16" fill="#008a00"/><line x1="324.79" y1="211.93" x2="324.79" y2="213.27" stroke="#ff0000" stroke-width="0.7"/><rect x="323.29" y="212.60" width="3" height="0.90" fill="#ff0000"/><line x1="328.53" y1="212.06" x2="328.53" y2="213.14" stroke="#ff0000" stroke-width="0.7"/><rect x="327.03" y="212.60" width="3" height="0.90" fill="#ff0000"/><line x1="332.27" y1="210.31" x2="332.27" y2="212.06" stroke="#ff0000" stroke-width="0.7"/><rect x="330.77" y="210.85" width="3" height="0.90" fill="#ff0000"/><line x1="336.00" y1="208.02" x2="336.00" y2="211.52" stroke="#ff0000" stroke-width="0.7"/><rect x="334.50" y="210.85" width="3" height="0.90" fill="#ff0000"/><line x1="339.74" y1="206.67" x2="339.74" y2="209.64" stroke="#ff0000" stroke-width="0.7"/><rect x="338.24" y="208.02" width="3" height="1.21" fill="#ff0000"/><line x1="343.47" y1="209.64" x2="343.47" y2="211.12" stroke="#ff0000" stroke-width="0.7"/><rect x="341.97" y="210.44" width="3" height="0.90" fill="#ff0000"/><line x1="347.21" y1="211.66" x2="347.21" y2="213.41" stroke="#008a00" stroke-width="0.7"/><rect x="345.71" y="212.06" width="3" height="0.94" fill="#008a00"/><line x1="350.95" y1="213.00" x2="350.95" y2="215.83" stroke="#008a00" stroke-width="0.7"/><rect x="349.45" y="213.81" width="3" height="1.62" fill="#008a00"/><line x1="354.68" y1="213.81" x2="354.68" y2="216.64" stroke="#ff0000" stroke-width="0.7"/><rect x="353.18" y="214.22" width="3" height="2.02" fill="#ff0000"/><line x1="358.42" y1="207.75" x2="358.42" y2="209.10" stroke="#008a00" stroke-width="0.7"/><rect x="356.92" y="208.29" width="3" height="0.90" fill="#008a00"/><line x1="362.15" y1="204.25" x2="362.15" y2="211.25" stroke="#008a00" stroke-width="0.7"/><rect x="360.65" y="206.27" width="3" height="4.58" fill="#008a00"/><line x1="365.89" y1="208.29" x2="365.89" y2="210.85" stroke="#ff0000" stroke-width="0.7"/><rect x="364.39" y="208.83" width="3" height="1.62" fill="#ff0000"/><line x1="369.63" y1="209.37" x2="369.63" y2="210.71" stroke="#ff0000" stroke-width="0.7"/><rect x="368.13" y="210.04" width="3" height="0.90" fill="#ff0000"/><line x1="373.36" y1="208.42" x2="373.36" y2="210.58" stroke="#008a00" stroke-width="0.7"/><rect x="371.86" y="209.90" width="3" height="0.90" fill="#008a00"/><line x1="377.10" y1="209.37" x2="377.10" y2="210.71" stroke="#ff0000" stroke-width="0.7"/><rect x="375.60" y="210.04" width="3" height="0.90" fill="#ff0000"/><line x1="380.83" y1="209.50" x2="380.83" y2="211.25" stroke="#ff0000" stroke-width="0.7"/><rect x="379.33" y="210.04" width="3" height="0.90" fill="#ff0000"/><line x1="384.57" y1="211.25" x2="384.57" y2="215.02" stroke="#008a00" stroke-width="0.7"/><rect x="383.07" y="211.66" width="3" height="1.75" fill="#008a00"/><line x1="388.31" y1="208.42" x2="388.31" y2="210.71" stroke="#ff0000" stroke-width="0.7"/><rect x="386.81" y="210.04" width="3" height="0.90" fill="#ff0000"/><line x1="392.04" y1="209.10" x2="392.04" y2="210.31" stroke="#ff0000" stroke-width="0.7"/><rect x="390.54" y="209.64" width="3" height="0.90" fill="#ff0000"/><line x1="395.78" y1="210.31" x2="395.78" y2="213.95" stroke="#008a00" stroke-width="0.7"/><rect x="394.28" y="211.25" width="3" height="0.90" fill="#008a00"/><line x1="399.51" y1="210.85" x2="399.51" y2="215.02" stroke="#008a00" stroke-width="0.7"/><rect x="398.01" y="211.25" width="3" height="1.75" fill="#008a00"/><line x1="403.25" y1="207.61" x2="403.25" y2="210.04" stroke="#ff0000" stroke-width="0.7"/><rect x="401.75" y="209.23" width="3" height="0.90" fill="#ff0000"/><line x1="406.99" y1="207.61" x2="406.99" y2="210.04" stroke="#ff0000" stroke-width="0.7"/><rect x="405.49" y="209.23" width="3" height="0.90" fill="#ff0000"/><line x1="410.72" y1="207.21" x2="410.72" y2="214.08" stroke="#008a00" stroke-width="0.7"/><rect x="409.22" y="208.42" width="3" height="2.42" fill="#008a00"/><line x1="414.46" y1="209.23" x2="414.46" y2="210.85" stroke="#ff0000" stroke-width="0.7"/><rect x="412.96" y="209.64" width="3" height="0.90" fill="#ff0000"/><line x1="418.19" y1="209.10" x2="418.19" y2="210.17" stroke="#ff0000" stroke-width="0.7"/><rect x="416.69" y="209.64" width="3" height="0.90" fill="#ff0000"/><line x1="421.93" y1="204.65" x2="421.93" y2="209.23" stroke="#ff0000" stroke-width="0.7"/><rect x="420.43" y="205.06" width="3" height="3.77" fill="#ff0000"/><line x1="425.67" y1="201.55" x2="425.67" y2="205.86" stroke="#ff0000" stroke-width="0.7"/><rect x="424.17" y="201.96" width="3" height="3.50" fill="#ff0000"/><line x1="429.40" y1="195.49" x2="429.40" y2="202.09" stroke="#ff0000" stroke-width="0.7"/><rect x="427.90" y="197.51" width="3" height="2.56" fill="#ff0000"/><line x1="433.14" y1="196.70" x2="433.14" y2="199.53" stroke="#008a00" stroke-width="0.7"/><rect x="431.64" y="197.11" width="3" height="1.62" fill="#008a00"/><line x1="436.87" y1="198.05" x2="436.87" y2="199.40" stroke="#ff0000" stroke-width="0.7"/><rect x="435.37" y="198.72" width="3" height="0.90" fill="#ff0000"/><line x1="440.61" y1="195.90" x2="440.61" y2="199.13" stroke="#ff0000" stroke-width="0.7"/><rect x="439.11" y="196.30" width="3" height="2.42" fill="#ff0000"/><line x1="444.35" y1="190.51" x2="444.35" y2="193.88" stroke="#008a00" stroke-width="0.7"/><rect x="442.85" y="191.18" width="3" height="0.90" fill="#008a00"/><line x1="448.08" y1="190.51" x2="448.08" y2="193.47" stroke="#ff0000" stroke-width="0.7"/><rect x="446.58" y="191.32" width="3" height="0.90" fill="#ff0000"/><line x1="451.82" y1="185.39" x2="451.82" y2="191.32" stroke="#ff0000" stroke-width="0.7"/><rect x="450.32" y="185.79" width="3" height="5.12" fill="#ff0000"/><line x1="455.55" y1="184.58" x2="455.55" y2="190.78" stroke="#008a00" stroke-width="0.7"/><rect x="454.05" y="185.79" width="3" height="4.58" fill="#008a00"/><line x1="459.29" y1="187.54" x2="459.29" y2="190.37" stroke="#ff0000" stroke-width="0.7"/><rect x="457.79" y="187.95" width="3" height="2.02" fill="#ff0000"/><line x1="463.03" y1="186.74" x2="463.03" y2="189.16" stroke="#008a00" stroke-width="0.7"/><rect x="461.53" y="187.14" width="3" height="1.62" fill="#008a00"/><line x1="466.76" y1="187.28" x2="466.76" y2="188.62" stroke="#ff0000" stroke-width="0.7"/><rect x="465.26" y="187.95" width="3" height="0.90" fill="#ff0000"/><line x1="470.50" y1="188.76" x2="470.50" y2="193.74" stroke="#008a00" stroke-width="0.7"/><rect x="469.00" y="189.16" width="3" height="4.18" fill="#008a00"/><line x1="474.23" y1="189.43" x2="474.23" y2="192.80" stroke="#ff0000" stroke-width="0.7"/><rect x="472.73" y="189.97" width="3" height="0.90" fill="#ff0000"/><line x1="477.97" y1="189.03" x2="477.97" y2="190.10" stroke="#ff0000" stroke-width="0.7"/><rect x="476.47" y="189.57" width="3" height="0.90" fill="#ff0000"/><line x1="481.71" y1="187.14" x2="481.71" y2="188.49" stroke="#008a00" stroke-width="0.7"/><rect x="480.21" y="187.81" width="3" height="0.90" fill="#008a00"/><line x1="485.44" y1="188.89" x2="485.44" y2="193.34" stroke="#ff0000" stroke-width="0.7"/><rect x="483.94" y="189.57" width="3" height="0.90" fill="#ff0000"/><line x1="489.18" y1="190.64" x2="489.18" y2="191.85" stroke="#008a00" stroke-width="0.7"/><rect x="487.68" y="191.18" width="3" height="0.90" fill="#008a00"/><line x1="492.91" y1="191.32" x2="492.91" y2="193.34" stroke="#008a00" stroke-width="0.7"/><rect x="491.41" y="191.72" width="3" height="1.21" fill="#008a00"/><line x1="496.65" y1="189.16" x2="496.65" y2="192.53" stroke="#ff0000" stroke-width="0.7"/><rect x="495.15" y="189.57" width="3" height="2.56" fill="#ff0000"/><line x1="500.39" y1="189.16" x2="500.39" y2="197.92" stroke="#008a00" stroke-width="0.7"/><rect x="498.89" y="189.57" width="3" height="7.95" fill="#008a00"/><line x1="504.12" y1="195.49" x2="504.12" y2="199.67" stroke="#ff0000" stroke-width="0.7"/><rect x="502.62" y="197.51" width="3" height="0.90" fill="#ff0000"/><line x1="507.86" y1="193.74" x2="507.86" y2="197.51" stroke="#ff0000" stroke-width="0.7"/><rect x="506.36" y="194.14" width="3" height="2.96" fill="#ff0000"/><line x1="511.59" y1="193.20" x2="511.59" y2="194.28" stroke="#ff0000" stroke-width="0.7"/><rect x="510.09" y="193.74" width="3" height="0.90" fill="#ff0000"/><line x1="515.33" y1="187.81" x2="515.33" y2="191.18" stroke="#ff0000" stroke-width="0.7"/><rect x="513.83" y="189.16" width="3" height="1.62" fill="#ff0000"/><line x1="519.07" y1="187.81" x2="519.07" y2="192.53" stroke="#008a00" stroke-width="0.7"/><rect x="517.57" y="190.37" width="3" height="1.75" fill="#008a00"/><line x1="522.80" y1="187.14" x2="522.80" y2="190.78" stroke="#ff0000" stroke-width="0.7"/><rect x="521.30" y="187.54" width="3" height="2.83" fill="#ff0000"/><line x1="526.54" y1="185.39" x2="526.54" y2="188.35" stroke="#ff0000" stroke-width="0.7"/><rect x="525.04" y="186.60" width="3" height="0.90" fill="#ff0000"/><line x1="530.27" y1="185.39" x2="530.27" y2="189.30" stroke="#008a00" stroke-width="0.7"/><rect x="528.77" y="185.79" width="3" height="3.10" fill="#008a00"/><line x1="534.01" y1="182.56" x2="534.01" y2="186.20" stroke="#ff0000" stroke-width="0.7"/><rect x="532.51" y="184.58" width="3" height="0.90" fill="#ff0000"/><line x1="537.75" y1="182.96" x2="537.75" y2="186.60" stroke="#ff0000" stroke-width="0.7"/><rect x="536.25" y="183.37" width="3" height="2.83" fill="#ff0000"/><line x1="541.48" y1="180.00" x2="541.48" y2="183.37" stroke="#ff0000" stroke-width="0.7"/><rect x="539.98" y="181.62" width="3" height="1.35" fill="#ff0000"/><line x1="545.22" y1="182.02" x2="545.22" y2="185.39" stroke="#ff0000" stroke-width="0.7"/><rect x="543.72" y="184.58" width="3" height="0.90" fill="#ff0000"/><line x1="548.95" y1="185.39" x2="548.95" y2="188.76" stroke="#008a00" stroke-width="0.7"/><rect x="547.45" y="185.79" width="3" height="2.56" fill="#008a00"/><line x1="552.69" y1="175.02" x2="552.69" y2="183.77" stroke="#ff0000" stroke-width="0.7"/><rect x="551.19" y="176.63" width="3" height="6.74" fill="#ff0000"/><line x1="556.43" y1="168.69" x2="556.43" y2="176.23" stroke="#ff0000" stroke-width="0.7"/><rect x="554.93" y="170.03" width="3" height="5.79" fill="#ff0000"/><line x1="560.16" y1="156.43" x2="560.16" y2="166.26" stroke="#ff0000" stroke-width="0.7"/><rect x="558.66" y="156.83" width="3" height="9.02" fill="#ff0000"/><line x1="563.90" y1="149.69" x2="563.90" y2="158.72" stroke="#ff0000" stroke-width="0.7"/><rect x="562.40" y="150.37" width="3" height="0.90" fill="#ff0000"/><line x1="567.63" y1="150.37" x2="567.63" y2="156.29" stroke="#008a00" stroke-width="0.7"/><rect x="566.13" y="150.77" width="3" height="2.56" fill="#008a00"/><line x1="571.37" y1="152.39" x2="571.37" y2="157.51" stroke="#008a00" stroke-width="0.7"/><rect x="569.87" y="152.79" width="3" height="2.69" fill="#008a00"/><line x1="575.11" y1="145.38" x2="575.11" y2="154.00" stroke="#ff0000" stroke-width="0.7"/><rect x="573.61" y="149.16" width="3" height="4.45" fill="#ff0000"/><line x1="578.84" y1="126.39" x2="578.84" y2="133.66" stroke="#008a00" stroke-width="0.7"/><rect x="577.34" y="127.60" width="3" height="1.48" fill="#008a00"/><line x1="582.58" y1="104.97" x2="582.58" y2="129.08" stroke="#ff0000" stroke-width="0.7"/><rect x="581.08" y="121.27" width="3" height="2.02" fill="#ff0000"/><line x1="586.31" y1="113.06" x2="586.31" y2="130.57" stroke="#008a00" stroke-width="0.7"/><rect x="584.81" y="117.77" width="3" height="2.69" fill="#008a00"/><path d="M29.65 253.28 C30.27 253.55 32.14 254.35 33.39 254.88 C34.63 255.42 35.88 255.95 37.12 256.48 C38.37 257.02 39.61 257.55 40.86 258.09 C42.10 258.62 43.35 259.73 44.59 259.69 C45.84 259.65 47.08 258.58 48.33 257.86 C49.58 257.14 50.82 256.10 52.07 255.35 C53.31 254.60 54.56 254.04 55.80 253.36 C57.05 252.68 58.29 251.94 59.54 251.28 C60.78 250.63 62.03 249.81 63.27 249.45 C64.52 249.09 65.76 249.12 67.01 249.13 C68.26 249.13 69.50 249.55 70.75 249.48 C71.99 249.41 73.24 248.98 74.48 248.73 C75.73 248.47 76.97 248.20 78.22 247.97 C79.46 247.74 80.71 247.50 81.95 247.32 C83.20 247.15 84.44 247.06 85.69 246.92 C86.94 246.79 88.18 246.68 89.43 246.52 C90.67 246.35 91.92 246.20 93.16 245.95 C94.41 245.70 95.65 245.62 96.90 245.03 C98.14 244.45 99.39 243.27 100.63 242.45 C101.88 241.63 103.12 240.97 104.37 240.10 C105.62 239.24 106.86 238.00 108.11 237.25 C109.35 236.49 110.60 236.08 111.84 235.58 C113.09 235.08 114.33 234.44 115.58 234.26 C116.82 234.07 118.07 234.38 119.31 234.47 C120.56 234.56 121.80 234.80 123.05 234.80 C124.30 234.80 125.54 234.78 126.79 234.47 C128.03 234.17 129.28 233.72 130.52 232.97 C131.77 232.21 133.01 230.77 134.26 229.95 C135.50 229.13 136.75 228.75 137.99 228.06 C139.24 227.38 140.48 226.28 141.73 225.83 C142.98 225.37 144.22 225.40 145.47 225.31 C146.71 225.23 147.96 225.08 149.20 225.31 C150.45 225.55 151.69 226.51 152.94 226.72 C154.18 226.92 155.43 226.58 156.67 226.55 C157.92 226.53 159.16 226.66 160.41 226.55 C161.66 226.45 162.90 226.27 164.15 225.91 C165.39 225.55 166.64 224.81 167.88 224.40 C169.13 223.99 170.37 223.61 171.62 223.43 C172.86 223.25 174.11 223.12 175.35 223.32 C176.60 223.52 177.84 224.10 179.09 224.64 C180.34 225.18 181.58 225.80 182.83 226.55 C184.07 227.30 185.32 228.29 186.56 229.14 C187.81 229.99 189.05 230.96 190.30 231.65 C191.54 232.33 192.79 232.94 194.03 233.23 C195.28 233.53 196.52 233.59 197.77 233.40 C199.02 233.20 200.26 232.76 201.51 232.05 C202.75 231.34 204.00 229.85 205.24 229.14 C206.49 228.43 207.73 228.02 208.98 227.79 C210.22 227.57 211.47 227.68 212.71 227.79 C213.96 227.91 215.20 228.14 216.45 228.47 C217.70 228.79 218.94 229.13 220.19 229.73 C221.43 230.33 222.68 231.67 223.92 232.08 C225.17 232.48 226.41 232.25 227.66 232.16 C228.90 232.06 230.15 231.90 231.39 231.51 C232.64 231.12 233.88 230.33 235.13 229.84 C236.38 229.35 237.62 228.88 238.87 228.55 C240.11 228.22 241.36 228.00 242.60 227.87 C243.85 227.75 245.09 228.04 246.34 227.79 C247.58 227.54 248.83 226.85 250.07 226.37 C251.32 225.88 252.56 225.30 253.81 224.86 C255.06 224.42 256.30 224.12 257.55 223.73 C258.79 223.33 260.04 223.02 261.28 222.46 C262.53 221.90 263.77 220.89 265.02 220.38 C266.26 219.88 267.51 219.71 268.75 219.44 C270.00 219.18 271.24 219.09 272.49 218.80 C273.74 218.50 274.98 217.97 276.23 217.66 C277.47 217.36 278.72 217.09 279.96 216.96 C281.21 216.84 282.45 216.91 283.70 216.91 C284.94 216.90 286.19 217.17 287.43 216.94 C288.68 216.71 289.92 215.82 291.17 215.54 C292.42 215.25 293.66 215.41 294.91 215.24 C296.15 215.07 297.40 214.82 298.64 214.54 C299.89 214.26 301.13 213.80 302.38 213.57 C303.62 213.34 304.87 213.05 306.11 213.14 C307.36 213.23 308.60 214.13 309.85 214.11 C311.10 214.09 312.34 213.29 313.59 213.03 C314.83 212.76 316.08 212.59 317.32 212.52 C318.57 212.45 319.81 212.69 321.06 212.63 C322.30 212.56 323.55 212.30 324.79 212.14 C326.04 211.98 327.28 211.71 328.53 211.66 C329.78 211.60 331.02 211.78 332.27 211.82 C333.51 211.86 334.76 212.04 336.00 211.90 C337.25 211.76 338.49 211.21 339.74 210.98 C340.98 210.76 342.23 210.61 343.47 210.55 C344.72 210.49 345.96 210.47 347.21 210.63 C348.46 210.80 349.70 211.28 350.95 211.55 C352.19 211.81 353.44 212.10 354.68 212.22 C355.93 212.35 357.17 212.28 358.42 212.30 C359.66 212.33 360.91 212.51 362.15 212.38 C363.40 212.26 364.64 211.87 365.89 211.55 C367.14 211.23 368.38 210.79 369.63 210.47 C370.87 210.15 372.12 209.72 373.36 209.64 C374.61 209.55 375.85 209.93 377.10 209.96 C378.34 209.99 379.59 209.67 380.83 209.80 C382.08 209.92 383.32 210.56 384.57 210.71 C385.82 210.87 387.06 210.73 388.31 210.71 C389.55 210.70 390.80 210.59 392.04 210.63 C393.29 210.67 394.53 210.80 395.78 210.96 C397.02 211.11 398.27 211.59 399.51 211.55 C400.76 211.51 402.00 210.88 403.25 210.71 C404.50 210.55 405.74 210.54 406.99 210.55 C408.23 210.56 409.48 210.82 410.72 210.79 C411.97 210.77 413.21 210.57 414.46 210.39 C415.70 210.21 416.95 209.97 418.19 209.72 C419.44 209.46 420.68 209.26 421.93 208.88 C423.18 208.50 424.42 208.11 425.67 207.43 C426.91 206.74 428.16 205.57 429.40 204.76 C430.65 203.95 431.89 203.30 433.14 202.58 C434.38 201.85 435.63 201.05 436.87 200.39 C438.12 199.74 439.36 199.29 440.61 198.64 C441.86 198.00 443.10 197.08 444.35 196.52 C445.59 195.95 446.84 195.91 448.08 195.28 C449.33 194.64 450.57 193.40 451.82 192.69 C453.06 191.98 454.31 191.58 455.55 191.02 C456.80 190.46 458.04 189.71 459.29 189.35 C460.54 188.99 461.78 189.04 463.03 188.84 C464.27 188.64 465.52 188.03 466.76 188.16 C468.01 188.30 469.25 189.43 470.50 189.67 C471.74 189.91 472.99 189.55 474.23 189.59 C475.48 189.63 476.72 189.89 477.97 189.92 C479.22 189.94 480.46 189.73 481.71 189.75 C482.95 189.78 484.20 190.09 485.44 190.08 C486.69 190.06 487.93 189.64 489.18 189.67 C490.42 189.70 491.67 190.17 492.91 190.27 C494.16 190.36 495.40 189.95 496.65 190.27 C497.90 190.58 499.14 191.59 500.39 192.18 C501.63 192.76 502.88 193.41 504.12 193.77 C505.37 194.13 506.61 194.21 507.86 194.33 C509.10 194.45 510.35 194.48 511.59 194.50 C512.84 194.51 514.08 194.61 515.33 194.41 C516.58 194.22 517.82 193.85 519.07 193.34 C520.31 192.82 521.56 191.93 522.80 191.34 C524.05 190.76 525.29 190.25 526.54 189.83 C527.78 189.42 529.03 189.18 530.27 188.86 C531.52 188.55 532.76 188.39 534.01 187.95 C535.26 187.50 536.50 186.69 537.75 186.20 C538.99 185.71 540.24 185.28 541.48 185.01 C542.73 184.75 543.97 184.69 545.22 184.61 C546.46 184.52 547.71 184.78 548.95 184.50 C550.20 184.22 551.44 183.62 552.69 182.91 C553.94 182.20 555.18 181.51 556.43 180.24 C557.67 178.97 558.92 177.25 560.16 175.29 C561.41 173.32 562.65 170.75 563.90 168.44 C565.14 166.14 566.39 163.31 567.63 161.44 C568.88 159.57 570.12 158.61 571.37 157.21 C572.62 155.81 573.86 154.66 575.11 153.03 C576.35 151.41 577.60 149.38 578.84 147.48 C580.09 145.59 581.33 143.73 582.58 141.67 C583.82 139.60 585.69 136.19 586.31 135.09" fill="none" stroke="#ff1a1a" stroke-width="1.15" stroke-linejoin="round"/><path d="M29.65 253.55 C30.27 253.65 32.14 253.96 33.39 254.16 C34.63 254.36 35.88 254.57 37.12 254.77 C38.37 254.98 39.61 255.24 40.86 255.38 C42.10 255.53 43.35 255.60 44.59 255.67 C45.84 255.74 47.08 255.76 48.33 255.80 C49.58 255.85 50.82 255.98 52.07 255.94 C53.31 255.91 54.56 255.72 55.80 255.57 C57.05 255.43 58.29 255.24 59.54 255.07 C60.78 254.90 62.03 254.83 63.27 254.57 C64.52 254.31 65.76 253.85 67.01 253.49 C68.26 253.13 69.50 252.82 70.75 252.42 C71.99 252.01 73.24 251.51 74.48 251.04 C75.73 250.58 76.97 250.07 78.22 249.63 C79.46 249.19 80.71 248.66 81.95 248.39 C83.20 248.12 84.44 248.09 85.69 248.02 C86.94 247.96 88.18 248.11 89.43 248.00 C90.67 247.88 91.92 247.59 93.16 247.34 C94.41 247.09 95.65 246.91 96.90 246.50 C98.14 246.09 99.39 245.38 100.63 244.89 C101.88 244.39 103.12 244.01 104.37 243.51 C105.62 243.01 106.86 242.34 108.11 241.88 C109.35 241.42 110.60 241.14 111.84 240.76 C113.09 240.39 114.33 240.03 115.58 239.65 C116.82 239.26 118.07 238.83 119.31 238.46 C120.56 238.10 121.80 237.88 123.05 237.45 C124.30 237.02 125.54 236.39 126.79 235.86 C128.03 235.33 129.28 234.90 130.52 234.27 C131.77 233.65 133.01 232.60 134.26 232.10 C135.50 231.60 136.75 231.57 137.99 231.27 C139.24 230.97 140.48 230.54 141.73 230.31 C142.98 230.08 144.22 230.09 145.47 229.89 C146.71 229.70 147.96 229.40 149.20 229.14 C150.45 228.88 151.69 228.64 152.94 228.33 C154.18 228.03 155.43 227.66 156.67 227.31 C157.92 226.95 159.16 226.47 160.41 226.19 C161.66 225.91 162.90 225.83 164.15 225.61 C165.39 225.39 166.64 224.95 167.88 224.86 C169.13 224.77 170.37 225.06 171.62 225.07 C172.86 225.09 174.11 224.85 175.35 224.94 C176.60 225.02 177.84 225.38 179.09 225.60 C180.34 225.81 181.58 226.04 182.83 226.23 C184.07 226.43 185.32 226.55 186.56 226.77 C187.81 226.99 189.05 227.29 190.30 227.54 C191.54 227.79 192.79 228.03 194.03 228.28 C195.28 228.52 196.52 228.85 197.77 229.02 C199.02 229.19 200.26 229.28 201.51 229.30 C202.75 229.32 204.00 229.07 205.24 229.14 C206.49 229.21 207.73 229.49 208.98 229.72 C210.22 229.95 211.47 230.31 212.71 230.51 C213.96 230.72 215.20 230.87 216.45 230.93 C217.70 230.99 218.94 230.94 220.19 230.89 C221.43 230.84 222.68 230.76 223.92 230.61 C225.17 230.46 226.41 230.13 227.66 229.98 C228.90 229.82 230.15 229.79 231.39 229.65 C232.64 229.51 233.88 229.24 235.13 229.15 C236.38 229.07 237.62 229.00 238.87 229.14 C240.11 229.28 241.36 229.84 242.60 229.98 C243.85 230.11 245.09 230.15 246.34 229.98 C247.58 229.80 248.83 229.38 250.07 228.94 C251.32 228.50 252.56 227.82 253.81 227.35 C255.06 226.88 256.30 226.50 257.55 226.14 C258.79 225.77 260.04 225.51 261.28 225.17 C262.53 224.83 263.77 224.47 265.02 224.09 C266.26 223.71 267.51 223.28 268.75 222.90 C270.00 222.53 271.24 222.19 272.49 221.83 C273.74 221.46 274.98 221.05 276.23 220.69 C277.47 220.34 278.72 220.05 279.96 219.71 C281.21 219.37 282.45 218.90 283.70 218.65 C284.94 218.39 286.19 218.44 287.43 218.19 C288.68 217.94 289.92 217.45 291.17 217.17 C292.42 216.88 293.66 216.69 294.91 216.45 C296.15 216.22 297.40 215.95 298.64 215.75 C299.89 215.55 301.13 215.36 302.38 215.24 C303.62 215.12 304.87 215.11 306.11 215.04 C307.36 214.97 308.60 214.97 309.85 214.82 C311.10 214.67 312.34 214.35 313.59 214.13 C314.83 213.92 316.08 213.70 317.32 213.53 C318.57 213.36 319.81 213.25 321.06 213.10 C322.30 212.95 323.55 212.68 324.79 212.64 C326.04 212.60 327.28 212.92 328.53 212.88 C329.78 212.85 331.02 212.54 332.27 212.42 C333.51 212.31 334.76 212.31 336.00 212.21 C337.25 212.10 338.49 211.95 339.74 211.80 C340.98 211.66 342.23 211.46 343.47 211.35 C344.72 211.24 345.96 211.09 347.21 211.14 C348.46 211.20 349.70 211.53 350.95 211.68 C352.19 211.84 353.44 212.07 354.68 212.06 C355.93 212.05 357.17 211.74 358.42 211.64 C359.66 211.54 360.91 211.56 362.15 211.47 C363.40 211.38 364.64 211.17 365.89 211.09 C367.14 211.01 368.38 211.04 369.63 211.01 C370.87 210.98 372.12 210.91 373.36 210.93 C374.61 210.95 375.85 211.10 377.10 211.13 C378.34 211.16 379.59 211.09 380.83 211.09 C382.08 211.09 383.32 211.21 384.57 211.13 C385.82 211.05 387.06 210.76 388.31 210.59 C389.55 210.43 390.80 210.16 392.04 210.13 C393.29 210.11 394.53 210.37 395.78 210.46 C397.02 210.55 398.27 210.63 399.51 210.67 C400.76 210.72 402.00 210.72 403.25 210.71 C404.50 210.71 405.74 210.63 406.99 210.63 C408.23 210.63 409.48 210.71 410.72 210.71 C411.97 210.72 413.21 210.69 414.46 210.67 C415.70 210.66 416.95 210.78 418.19 210.63 C419.44 210.49 420.68 210.07 421.93 209.80 C423.18 209.52 424.42 209.33 425.67 208.99 C426.91 208.65 428.16 208.19 429.40 207.78 C430.65 207.36 431.89 206.94 433.14 206.48 C434.38 206.03 435.63 205.51 436.87 205.06 C438.12 204.60 439.36 204.28 440.61 203.76 C441.86 203.25 443.10 202.60 444.35 201.97 C445.59 201.35 446.84 200.74 448.08 200.02 C449.33 199.29 450.57 198.35 451.82 197.63 C453.06 196.92 454.31 196.31 455.55 195.71 C456.80 195.10 458.04 194.50 459.29 194.00 C460.54 193.49 461.78 193.06 463.03 192.68 C464.27 192.30 465.52 191.97 466.76 191.72 C468.01 191.47 469.25 191.42 470.50 191.18 C471.74 190.95 472.99 190.56 474.23 190.31 C475.48 190.05 476.72 189.80 477.97 189.63 C479.22 189.46 480.46 189.38 481.71 189.30 C482.95 189.21 484.20 189.06 485.44 189.12 C486.69 189.18 487.93 189.54 489.18 189.67 C490.42 189.81 491.67 189.86 492.91 189.93 C494.16 190.00 495.40 189.92 496.65 190.09 C497.90 190.26 499.14 190.66 500.39 190.97 C501.63 191.27 502.88 191.75 504.12 191.92 C505.37 192.10 506.61 191.93 507.86 192.00 C509.10 192.08 510.35 192.32 511.59 192.38 C512.84 192.44 514.08 192.28 515.33 192.34 C516.58 192.40 517.82 192.72 519.07 192.76 C520.31 192.79 521.56 192.67 522.80 192.56 C524.05 192.44 525.29 192.23 526.54 192.08 C527.78 191.94 529.03 191.83 530.27 191.68 C531.52 191.53 532.76 191.50 534.01 191.18 C535.26 190.86 536.50 190.27 537.75 189.77 C538.99 189.27 540.24 188.60 541.48 188.18 C542.73 187.75 543.97 187.47 545.22 187.22 C546.46 186.97 547.71 186.98 548.95 186.68 C550.20 186.38 551.44 186.01 552.69 185.43 C553.94 184.85 555.18 184.10 556.43 183.22 C557.67 182.34 558.92 181.27 560.16 180.15 C561.41 179.03 562.65 177.72 563.90 176.53 C565.14 175.33 566.39 174.05 567.63 172.97 C568.88 171.89 570.12 171.12 571.37 170.06 C572.62 169.01 573.86 168.08 575.11 166.64 C576.35 165.19 577.60 163.32 578.84 161.39 C580.09 159.46 581.33 157.24 582.58 155.05 C583.82 152.87 585.69 149.40 586.31 148.27" fill="none" stroke="#2222ee" stroke-width="1.15" stroke-linejoin="round"/><path d="M29.65 249.91 C30.27 250.01 32.14 250.32 33.39 250.53 C34.63 250.74 35.88 250.94 37.12 251.15 C38.37 251.35 39.61 251.58 40.86 251.77 C42.10 251.95 43.35 252.14 44.59 252.25 C45.84 252.35 47.08 252.35 48.33 252.40 C49.58 252.46 50.82 252.51 52.07 252.56 C53.31 252.61 54.56 252.67 55.80 252.72 C57.05 252.77 58.29 252.85 59.54 252.87 C60.78 252.90 62.03 252.87 63.27 252.87 C64.52 252.87 65.76 252.87 67.01 252.87 C68.26 252.87 69.50 252.90 70.75 252.87 C71.99 252.85 73.24 252.81 74.48 252.74 C75.73 252.67 76.97 252.56 78.22 252.47 C79.46 252.38 80.71 252.29 81.95 252.20 C83.20 252.11 84.44 252.07 85.69 251.93 C86.94 251.79 88.18 251.56 89.43 251.38 C90.67 251.20 91.92 251.01 93.16 250.83 C94.41 250.65 95.65 250.46 96.90 250.28 C98.14 250.10 99.39 250.02 100.63 249.73 C101.88 249.43 103.12 248.93 104.37 248.50 C105.62 248.07 106.86 247.58 108.11 247.15 C109.35 246.72 110.60 246.32 111.84 245.90 C113.09 245.48 114.33 245.05 115.58 244.64 C116.82 244.22 118.07 243.74 119.31 243.42 C120.56 243.11 121.80 242.99 123.05 242.74 C124.30 242.49 125.54 242.25 126.79 241.93 C128.03 241.61 129.28 241.24 130.52 240.80 C131.77 240.37 133.01 239.76 134.26 239.30 C135.50 238.85 136.75 238.48 137.99 238.08 C139.24 237.68 140.48 237.28 141.73 236.91 C142.98 236.55 144.22 236.22 145.47 235.89 C146.71 235.56 147.96 235.27 149.20 234.95 C150.45 234.64 151.69 234.33 152.94 233.99 C154.18 233.64 155.43 233.25 156.67 232.88 C157.92 232.52 159.16 232.18 160.41 231.82 C161.66 231.46 162.90 231.11 164.15 230.74 C165.39 230.36 166.64 229.92 167.88 229.56 C169.13 229.21 170.37 228.83 171.62 228.59 C172.86 228.34 174.11 228.21 175.35 228.10 C176.60 228.00 177.84 227.96 179.09 227.95 C180.34 227.95 181.58 228.06 182.83 228.06 C184.07 228.06 185.32 227.98 186.56 227.95 C187.81 227.93 189.05 227.96 190.30 227.93 C191.54 227.91 192.79 227.85 194.03 227.79 C195.28 227.74 196.52 227.66 197.77 227.60 C199.02 227.55 200.26 227.56 201.51 227.46 C202.75 227.36 204.00 227.01 205.24 227.00 C206.49 226.99 207.73 227.27 208.98 227.40 C210.22 227.52 211.47 227.58 212.71 227.73 C213.96 227.87 215.20 228.13 216.45 228.26 C217.70 228.40 218.94 228.49 220.19 228.56 C221.43 228.63 222.68 228.66 223.92 228.69 C225.17 228.72 226.41 228.71 227.66 228.76 C228.90 228.80 230.15 228.91 231.39 228.96 C232.64 229.02 233.88 229.04 235.13 229.09 C236.38 229.13 237.62 229.14 238.87 229.22 C240.11 229.30 241.36 229.45 242.60 229.56 C243.85 229.66 245.09 229.82 246.34 229.85 C247.58 229.88 248.83 229.84 250.07 229.73 C251.32 229.61 252.56 229.34 253.81 229.14 C255.06 228.94 256.30 228.72 257.55 228.51 C258.79 228.30 260.04 228.13 261.28 227.89 C262.53 227.64 263.77 227.30 265.02 227.03 C266.26 226.76 267.51 226.53 268.75 226.28 C270.00 226.02 271.24 225.72 272.49 225.49 C273.74 225.26 274.98 225.02 276.23 224.92 C277.47 224.81 278.72 224.94 279.96 224.84 C281.21 224.74 282.45 224.52 283.70 224.31 C284.94 224.10 286.19 223.91 287.43 223.56 C288.68 223.22 289.92 222.64 291.17 222.26 C292.42 221.88 293.66 221.59 294.91 221.29 C296.15 220.99 297.40 220.73 298.64 220.46 C299.89 220.19 301.13 219.91 302.38 219.66 C303.62 219.42 304.87 219.19 306.11 218.97 C307.36 218.75 308.60 218.58 309.85 218.32 C311.10 218.06 312.34 217.70 313.59 217.41 C314.83 217.13 316.08 216.88 317.32 216.62 C318.57 216.36 319.81 216.07 321.06 215.87 C322.30 215.67 323.55 215.56 324.79 215.41 C326.04 215.27 327.28 215.19 328.53 215.02 C329.78 214.86 331.02 214.61 332.27 214.44 C333.51 214.26 334.76 214.13 336.00 213.98 C337.25 213.83 338.49 213.65 339.74 213.52 C340.98 213.39 342.23 213.28 343.47 213.19 C344.72 213.10 345.96 213.03 347.21 212.98 C348.46 212.94 349.70 212.94 350.95 212.91 C352.19 212.88 353.44 212.88 354.68 212.79 C355.93 212.70 357.17 212.49 358.42 212.37 C359.66 212.25 360.91 212.12 362.15 212.05 C363.40 211.99 364.64 212.04 365.89 211.99 C367.14 211.93 368.38 211.79 369.63 211.72 C370.87 211.65 372.12 211.61 373.36 211.57 C374.61 211.53 375.85 211.53 377.10 211.47 C378.34 211.41 379.59 211.27 380.83 211.22 C382.08 211.16 383.32 211.15 384.57 211.14 C385.82 211.12 387.06 211.14 388.31 211.14 C389.55 211.13 390.80 211.11 392.04 211.10 C393.29 211.08 394.53 211.05 395.78 211.05 C397.02 211.05 398.27 211.09 399.51 211.07 C400.76 211.05 402.00 210.94 403.25 210.90 C404.50 210.86 405.74 210.83 406.99 210.82 C408.23 210.81 409.48 210.81 410.72 210.82 C411.97 210.83 413.21 210.89 414.46 210.90 C415.70 210.91 416.95 210.93 418.19 210.86 C419.44 210.79 420.68 210.64 421.93 210.46 C423.18 210.29 424.42 210.04 425.67 209.79 C426.91 209.54 428.16 209.18 429.40 208.96 C430.65 208.74 431.89 208.65 433.14 208.47 C434.38 208.29 435.63 208.07 436.87 207.86 C438.12 207.66 439.36 207.50 440.61 207.24 C441.86 206.98 443.10 206.61 444.35 206.30 C445.59 205.99 446.84 205.72 448.08 205.37 C449.33 205.01 450.57 204.52 451.82 204.15 C453.06 203.79 454.31 203.55 455.55 203.17 C456.80 202.79 458.04 202.29 459.29 201.90 C460.54 201.51 461.78 201.19 463.03 200.83 C464.27 200.47 465.52 200.08 466.76 199.75 C468.01 199.42 469.25 199.18 470.50 198.83 C471.74 198.49 472.99 198.04 474.23 197.68 C475.48 197.32 476.72 197.04 477.97 196.70 C479.22 196.36 480.46 195.99 481.71 195.63 C482.95 195.28 484.20 194.90 485.44 194.57 C486.69 194.24 487.93 193.95 489.18 193.65 C490.42 193.36 491.67 193.09 492.91 192.82 C494.16 192.55 495.40 192.21 496.65 192.04 C497.90 191.88 499.14 191.86 500.39 191.82 C501.63 191.78 502.88 191.86 504.12 191.82 C505.37 191.78 506.61 191.67 507.86 191.59 C509.10 191.51 510.35 191.44 511.59 191.34 C512.84 191.24 514.08 191.04 515.33 190.99 C516.58 190.93 517.82 191.05 519.07 191.03 C520.31 191.00 521.56 190.86 522.80 190.84 C524.05 190.81 525.29 190.88 526.54 190.88 C527.78 190.87 529.03 190.84 530.27 190.80 C531.52 190.76 532.76 190.71 534.01 190.64 C535.26 190.56 536.50 190.46 537.75 190.37 C538.99 190.27 540.24 190.18 541.48 190.05 C542.73 189.92 543.97 189.70 545.22 189.61 C546.46 189.53 547.71 189.65 548.95 189.53 C550.20 189.41 551.44 189.14 552.69 188.88 C553.94 188.63 555.18 188.41 556.43 187.99 C557.67 187.57 558.92 186.97 560.16 186.35 C561.41 185.74 562.65 184.98 563.90 184.31 C565.14 183.63 566.39 182.94 567.63 182.32 C568.88 181.71 570.12 181.31 571.37 180.62 C572.62 179.93 573.86 179.18 575.11 178.20 C576.35 177.23 577.60 175.96 578.84 174.78 C580.09 173.60 581.33 172.36 582.58 171.14 C583.82 169.92 585.69 168.08 586.31 167.47" fill="none" stroke="#22bb22" stroke-width="1.15" stroke-linejoin="round"/><path d="M29.65 252.87 C30.27 252.91 32.14 253.03 33.39 253.11 C34.63 253.19 35.88 253.27 37.12 253.35 C38.37 253.43 39.61 253.50 40.86 253.58 C42.10 253.66 43.35 253.74 44.59 253.82 C45.84 253.90 47.08 253.99 48.33 254.06 C49.58 254.12 50.82 254.19 52.07 254.20 C53.31 254.22 54.56 254.16 55.80 254.14 C57.05 254.12 58.29 254.10 59.54 254.08 C60.78 254.06 62.03 254.04 63.27 254.02 C64.52 254.00 65.76 253.98 67.01 253.96 C68.26 253.94 69.50 253.92 70.75 253.90 C71.99 253.88 73.24 253.88 74.48 253.84 C75.73 253.80 76.97 253.73 78.22 253.65 C79.46 253.58 80.71 253.47 81.95 253.38 C83.20 253.29 84.44 253.20 85.69 253.10 C86.94 253.01 88.18 252.92 89.43 252.83 C90.67 252.74 91.92 252.65 93.16 252.55 C94.41 252.46 95.65 252.37 96.90 252.24 C98.14 252.10 99.39 251.91 100.63 251.75 C101.88 251.59 103.12 251.43 104.37 251.26 C105.62 251.10 106.86 250.94 108.11 250.78 C109.35 250.61 110.60 250.46 111.84 250.29 C113.09 250.12 114.33 249.95 115.58 249.77 C116.82 249.60 118.07 249.41 119.31 249.23 C120.56 249.05 121.80 248.87 123.05 248.68 C124.30 248.50 125.54 248.32 126.79 248.14 C128.03 247.96 129.28 247.75 130.52 247.60 C131.77 247.44 133.01 247.31 134.26 247.18 C135.50 247.05 136.75 246.93 137.99 246.80 C139.24 246.67 140.48 246.55 141.73 246.42 C142.98 246.29 144.22 246.16 145.47 246.04 C146.71 245.91 147.96 245.78 149.20 245.66 C150.45 245.53 151.69 245.40 152.94 245.27 C154.18 245.14 155.43 245.00 156.67 244.87 C157.92 244.74 159.16 244.61 160.41 244.48 C161.66 244.34 162.90 244.21 164.15 244.08 C165.39 243.95 166.64 243.82 167.88 243.68 C169.13 243.55 170.37 243.41 171.62 243.27 C172.86 243.13 174.11 242.97 175.35 242.83 C176.60 242.68 177.84 242.53 179.09 242.38 C180.34 242.24 181.58 242.09 182.83 241.94 C184.07 241.79 185.32 241.65 186.56 241.50 C187.81 241.35 189.05 241.20 190.30 241.06 C191.54 240.91 192.79 240.76 194.03 240.61 C195.28 240.47 196.52 240.32 197.77 240.17 C199.02 240.02 200.26 239.88 201.51 239.73 C202.75 239.58 204.00 239.43 205.24 239.29 C206.49 239.14 207.73 238.99 208.98 238.85 C210.22 238.70 211.47 238.55 212.71 238.40 C213.96 238.26 215.20 238.11 216.45 237.96 C217.70 237.81 218.94 237.63 220.19 237.52 C221.43 237.41 222.68 237.38 223.92 237.31 C225.17 237.24 226.41 237.17 227.66 237.10 C228.90 237.03 230.15 236.96 231.39 236.89 C232.64 236.82 233.88 236.75 235.13 236.69 C236.38 236.62 237.62 236.55 238.87 236.48 C240.11 236.41 241.36 236.34 242.60 236.27 C243.85 236.20 245.09 236.13 246.34 236.06 C247.58 235.99 248.83 236.00 250.07 235.85 C251.32 235.71 252.56 235.41 253.81 235.20 C255.06 234.99 256.30 234.79 257.55 234.58 C258.79 234.36 260.04 234.14 261.28 233.92 C262.53 233.69 263.77 233.44 265.02 233.20 C266.26 232.97 267.51 232.71 268.75 232.50 C270.00 232.29 271.24 232.12 272.49 231.94 C273.74 231.77 274.98 231.61 276.23 231.43 C277.47 231.26 278.72 231.07 279.96 230.88 C281.21 230.70 282.45 230.52 283.70 230.34 C284.94 230.15 286.19 229.99 287.43 229.79 C288.68 229.59 289.92 229.35 291.17 229.14 C292.42 228.94 293.66 228.77 294.91 228.58 C296.15 228.40 297.40 228.22 298.64 228.03 C299.89 227.85 301.13 227.65 302.38 227.47 C303.62 227.29 304.87 227.12 306.11 226.94 C307.36 226.76 308.60 226.60 309.85 226.41 C311.10 226.22 312.34 225.98 313.59 225.79 C314.83 225.60 316.08 225.42 317.32 225.25 C318.57 225.08 319.81 224.91 321.06 224.77 C322.30 224.63 323.55 224.54 324.79 224.41 C326.04 224.29 327.28 224.16 328.53 224.04 C329.78 223.92 331.02 223.80 332.27 223.67 C333.51 223.54 334.76 223.41 336.00 223.27 C337.25 223.13 338.49 222.97 339.74 222.83 C340.98 222.69 342.23 222.55 343.47 222.42 C344.72 222.29 345.96 222.14 347.21 222.03 C348.46 221.92 349.70 221.84 350.95 221.76 C352.19 221.68 353.44 221.61 354.68 221.55 C355.93 221.48 357.17 221.43 358.42 221.36 C359.66 221.29 360.91 221.20 362.15 221.11 C363.40 221.03 364.64 220.93 365.89 220.84 C367.14 220.74 368.38 220.62 369.63 220.52 C370.87 220.42 372.12 220.33 373.36 220.24 C374.61 220.14 375.85 220.05 377.10 219.96 C378.34 219.88 379.59 219.79 380.83 219.72 C382.08 219.64 383.32 219.59 384.57 219.52 C385.82 219.44 387.06 219.33 388.31 219.26 C389.55 219.19 390.80 219.15 392.04 219.09 C393.29 219.04 394.53 218.98 395.78 218.92 C397.02 218.86 398.27 218.83 399.51 218.74 C400.76 218.64 402.00 218.49 403.25 218.35 C404.50 218.22 405.74 218.06 406.99 217.92 C408.23 217.79 409.48 217.69 410.72 217.56 C411.97 217.43 413.21 217.28 414.46 217.15 C415.70 217.02 416.95 216.92 418.19 216.78 C419.44 216.64 420.68 216.46 421.93 216.31 C423.18 216.16 424.42 216.00 425.67 215.87 C426.91 215.74 428.16 215.67 429.40 215.53 C430.65 215.39 431.89 215.22 433.14 215.05 C434.38 214.88 435.63 214.70 436.87 214.49 C438.12 214.29 439.36 214.06 440.61 213.83 C441.86 213.60 443.10 213.33 444.35 213.10 C445.59 212.88 446.84 212.69 448.08 212.46 C449.33 212.24 450.57 211.99 451.82 211.76 C453.06 211.54 454.31 211.34 455.55 211.12 C456.80 210.90 458.04 210.67 459.29 210.45 C460.54 210.23 461.78 210.01 463.03 209.79 C464.27 209.58 465.52 209.36 466.76 209.15 C468.01 208.95 469.25 208.77 470.50 208.58 C471.74 208.40 472.99 208.23 474.23 208.05 C475.48 207.88 476.72 207.72 477.97 207.54 C479.22 207.36 480.46 207.14 481.71 206.96 C482.95 206.78 484.20 206.61 485.44 206.46 C486.69 206.30 487.93 206.16 489.18 206.03 C490.42 205.89 491.67 205.77 492.91 205.62 C494.16 205.48 495.40 205.29 496.65 205.16 C497.90 205.03 499.14 204.95 500.39 204.84 C501.63 204.73 502.88 204.64 504.12 204.52 C505.37 204.41 506.61 204.27 507.86 204.14 C509.10 204.02 510.35 203.88 511.59 203.75 C512.84 203.63 514.08 203.53 515.33 203.40 C516.58 203.28 517.82 203.15 519.07 203.01 C520.31 202.88 521.56 202.73 522.80 202.59 C524.05 202.45 525.29 202.31 526.54 202.17 C527.78 202.02 529.03 201.89 530.27 201.73 C531.52 201.57 532.76 201.38 534.01 201.22 C535.26 201.06 536.50 200.93 537.75 200.78 C538.99 200.62 540.24 200.46 541.48 200.30 C542.73 200.14 543.97 199.98 545.22 199.83 C546.46 199.69 547.71 199.59 548.95 199.43 C550.20 199.26 551.44 199.04 552.69 198.83 C553.94 198.61 555.18 198.41 556.43 198.15 C557.67 197.88 558.92 197.56 560.16 197.25 C561.41 196.94 562.65 196.61 563.90 196.29 C565.14 195.97 566.39 195.65 567.63 195.33 C568.88 195.02 570.12 194.72 571.37 194.38 C572.62 194.03 573.86 193.69 575.11 193.27 C576.35 192.85 577.60 192.33 578.84 191.85 C580.09 191.37 581.33 190.89 582.58 190.40 C583.82 189.91 585.69 189.14 586.31 188.89" fill="none" stroke="#f39a3a" stroke-width="1.15" stroke-linejoin="round"/><rect x="28.15" y="334.00" width="3" height="6.60" fill="#14c0b4"/><rect x="31.89" y="336.00" width="3" height="4.60" fill="#14c0b4"/><rect x="35.62" y="335.00" width="3" height="5.60" fill="#ff8282"/><rect x="39.36" y="334.00" width="3" height="6.60" fill="#14c0b4"/><rect x="43.09" y="332.50" width="3" height="8.10" fill="#ff8282"/><rect x="46.83" y="306.50" width="3" height="34.10" fill="#ff8282"/><rect x="50.57" y="317.50" width="3" height="23.10" fill="#ff8282"/><rect x="54.30" y="328.00" width="3" height="12.60" fill="#14c0b4"/><rect x="58.04" y="334.00" width="3" height="6.60" fill="#ff8282"/><rect x="61.77" y="328.50" width="3" height="12.10" fill="#14c0b4"/><rect x="65.51" y="334.00" width="3" height="6.60" fill="#ff8282"/><rect x="69.25" y="332.00" width="3" height="8.60" fill="#ff8282"/><rect x="72.98" y="330.50" width="3" height="10.10" fill="#ff8282"/><rect x="76.72" y="332.00" width="3" height="8.60" fill="#14c0b4"/><rect x="80.45" y="336.00" width="3" height="4.60" fill="#ff8282"/><rect x="84.19" y="337.00" width="3" height="3.60" fill="#14c0b4"/><rect x="87.93" y="336.50" width="3" height="4.10" fill="#ff8282"/><rect x="91.66" y="329.00" width="3" height="11.60" fill="#ff8282"/><rect x="95.40" y="325.50" width="3" height="15.10" fill="#ff8282"/><rect x="99.13" y="319.50" width="3" height="21.10" fill="#ff8282"/><rect x="102.87" y="329.00" width="3" height="11.60" fill="#14c0b4"/><rect x="106.61" y="330.50" width="3" height="10.10" fill="#ff8282"/><rect x="110.34" y="331.50" width="3" height="9.10" fill="#14c0b4"/><rect x="114.08" y="330.50" width="3" height="10.10" fill="#ff8282"/><rect x="117.81" y="328.00" width="3" height="12.60" fill="#14c0b4"/><rect x="121.55" y="331.50" width="3" height="9.10" fill="#14c0b4"/><rect x="125.29" y="322.00" width="3" height="18.60" fill="#ff8282"/><rect x="129.02" y="323.00" width="3" height="17.60" fill="#ff8282"/><rect x="132.76" y="309.51" width="3" height="31.09" fill="#ff8282"/><rect x="136.49" y="322.50" width="3" height="18.10" fill="#14c0b4"/><rect x="140.23" y="331.50" width="3" height="9.10" fill="#14c0b4"/><rect x="143.97" y="333.00" width="3" height="7.60" fill="#14c0b4"/><rect x="147.70" y="336.00" width="3" height="4.60" fill="#ff8282"/><rect x="151.44" y="320.00" width="3" height="20.60" fill="#ff8282"/><rect x="155.17" y="333.00" width="3" height="7.60" fill="#ff8282"/><rect x="158.91" y="335.00" width="3" height="5.60" fill="#14c0b4"/><rect x="162.65" y="332.50" width="3" height="8.10" fill="#ff8282"/><rect x="166.38" y="330.50" width="3" height="10.10" fill="#ff8282"/><rect x="170.12" y="337.00" width="3" height="3.60" fill="#14c0b4"/><rect x="173.85" y="333.49" width="3" height="7.11" fill="#14c0b4"/><rect x="177.59" y="330.00" width="3" height="10.60" fill="#14c0b4"/><rect x="181.33" y="329.00" width="3" height="11.60" fill="#14c0b4"/><rect x="185.06" y="329.00" width="3" height="11.60" fill="#ff8282"/><rect x="188.80" y="336.00" width="3" height="4.60" fill="#ff8282"/><rect x="192.53" y="336.50" width="3" height="4.10" fill="#ff8282"/><rect x="196.27" y="333.00" width="3" height="7.60" fill="#ff8282"/><rect x="200.01" y="323.62" width="3" height="16.98" fill="#ff8282"/><rect x="203.74" y="295.55" width="3" height="45.05" fill="#ff8282"/><rect x="207.48" y="308.32" width="3" height="32.28" fill="#14c0b4"/><rect x="211.21" y="325.99" width="3" height="14.61" fill="#14c0b4"/><rect x="214.95" y="325.18" width="3" height="15.42" fill="#14c0b4"/><rect x="218.69" y="329.93" width="3" height="10.67" fill="#ff8282"/><rect x="222.42" y="327.08" width="3" height="13.52" fill="#ff8282"/><rect x="226.16" y="334.66" width="3" height="5.94" fill="#ff8282"/><rect x="229.89" y="333.08" width="3" height="7.52" fill="#14c0b4"/><rect x="233.63" y="337.82" width="3" height="2.78" fill="#ff8282"/><rect x="237.37" y="337.82" width="3" height="2.78" fill="#14c0b4"/><rect x="241.10" y="335.45" width="3" height="5.15" fill="#ff8282"/><rect x="244.84" y="335.94" width="3" height="4.66" fill="#14c0b4"/><rect x="248.57" y="329.07" width="3" height="11.53" fill="#ff8282"/><rect x="252.31" y="333.29" width="3" height="7.31" fill="#ff8282"/><rect x="256.05" y="331.00" width="3" height="9.60" fill="#14c0b4"/><rect x="259.78" y="334.50" width="3" height="6.10" fill="#ff8282"/><rect x="263.52" y="334.50" width="3" height="6.10" fill="#ff8282"/><rect x="267.25" y="333.49" width="3" height="7.11" fill="#ff8282"/><rect x="270.99" y="334.00" width="3" height="6.60" fill="#ff8282"/><rect x="274.73" y="337.00" width="3" height="3.60" fill="#14c0b4"/><rect x="278.46" y="335.50" width="3" height="5.10" fill="#ff8282"/><rect x="282.20" y="336.00" width="3" height="4.60" fill="#14c0b4"/><rect x="285.93" y="335.50" width="3" height="5.10" fill="#ff8282"/><rect x="289.67" y="326.01" width="3" height="14.59" fill="#ff8282"/><rect x="293.41" y="327.01" width="3" height="13.59" fill="#14c0b4"/><rect x="297.14" y="331.00" width="3" height="9.60" fill="#ff8282"/><rect x="300.88" y="330.50" width="3" height="10.10" fill="#ff8282"/><rect x="304.61" y="330.44" width="3" height="10.17" fill="#14c0b4"/><rect x="308.35" y="332.06" width="3" height="8.54" fill="#ff8282"/><rect x="312.09" y="329.50" width="3" height="11.10" fill="#ff8282"/><rect x="315.82" y="329.00" width="3" height="11.60" fill="#ff8282"/><rect x="319.56" y="333.00" width="3" height="7.60" fill="#14c0b4"/><rect x="323.29" y="335.00" width="3" height="5.60" fill="#ff8282"/><rect x="327.03" y="337.00" width="3" height="3.60" fill="#ff8282"/><rect x="330.77" y="336.00" width="3" height="4.60" fill="#ff8282"/><rect x="334.50" y="335.50" width="3" height="5.10" fill="#ff8282"/><rect x="338.24" y="336.00" width="3" height="4.60" fill="#ff8282"/><rect x="341.97" y="336.00" width="3" height="4.60" fill="#14c0b4"/><rect x="345.71" y="336.00" width="3" height="4.60" fill="#14c0b4"/><rect x="349.45" y="336.00" width="3" height="4.60" fill="#ff8282"/><rect x="353.18" y="336.50" width="3" height="4.10" fill="#ff8282"/><rect x="356.92" y="328.00" width="3" height="12.60" fill="#ff8282"/><rect x="360.65" y="331.50" width="3" height="9.10" fill="#14c0b4"/><rect x="364.39" y="336.00" width="3" height="4.60" fill="#ff8282"/><rect x="368.13" y="337.00" width="3" height="3.60" fill="#14c0b4"/><rect x="371.86" y="338.50" width="3" height="2.10" fill="#14c0b4"/><rect x="375.60" y="336.00" width="3" height="4.60" fill="#14c0b4"/><rect x="379.33" y="335.50" width="3" height="5.10" fill="#ff8282"/><rect x="383.07" y="333.00" width="3" height="7.60" fill="#14c0b4"/><rect x="386.81" y="332.50" width="3" height="8.10" fill="#ff8282"/><rect x="390.54" y="334.00" width="3" height="6.60" fill="#ff8282"/><rect x="394.28" y="334.50" width="3" height="6.10" fill="#14c0b4"/><rect x="398.01" y="335.00" width="3" height="5.60" fill="#14c0b4"/><rect x="401.75" y="331.00" width="3" height="9.60" fill="#ff8282"/><rect x="405.49" y="334.50" width="3" height="6.10" fill="#ff8282"/><rect x="409.22" y="331.00" width="3" height="9.60" fill="#14c0b4"/><rect x="412.96" y="334.50" width="3" height="6.10" fill="#ff8282"/><rect x="416.69" y="338.00" width="3" height="2.60" fill="#ff8282"/><rect x="420.43" y="329.50" width="3" height="11.10" fill="#ff8282"/><rect x="424.17" y="332.50" width="3" height="8.10" fill="#ff8282"/><rect x="427.90" y="331.00" width="3" height="9.60" fill="#ff8282"/><rect x="431.64" y="336.50" width="3" height="4.10" fill="#14c0b4"/><rect x="435.37" y="335.50" width="3" height="5.10" fill="#ff8282"/><rect x="439.11" y="335.50" width="3" height="5.10" fill="#ff8282"/><rect x="442.85" y="331.00" width="3" height="9.60" fill="#ff8282"/><rect x="446.58" y="334.00" width="3" height="6.60" fill="#ff8282"/><rect x="450.32" y="328.50" width="3" height="12.10" fill="#ff8282"/><rect x="454.05" y="334.00" width="3" height="6.60" fill="#14c0b4"/><rect x="457.79" y="336.00" width="3" height="4.60" fill="#ff8282"/><rect x="461.53" y="335.50" width="3" height="5.10" fill="#14c0b4"/><rect x="465.26" y="335.50" width="3" height="5.10" fill="#ff8282"/><rect x="469.00" y="335.50" width="3" height="5.10" fill="#14c0b4"/><rect x="472.73" y="335.32" width="3" height="5.28" fill="#ff8282"/><rect x="476.47" y="336.50" width="3" height="4.10" fill="#ff8282"/><rect x="480.21" y="335.00" width="3" height="5.60" fill="#ff8282"/><rect x="483.94" y="335.50" width="3" height="5.10" fill="#14c0b4"/><rect x="487.68" y="337.50" width="3" height="3.10" fill="#14c0b4"/><rect x="491.41" y="336.50" width="3" height="4.10" fill="#14c0b4"/><rect x="495.15" y="338.50" width="3" height="2.10" fill="#ff8282"/><rect x="498.89" y="337.00" width="3" height="3.60" fill="#14c0b4"/><rect x="502.62" y="337.00" width="3" height="3.60" fill="#ff8282"/><rect x="506.36" y="337.00" width="3" height="3.60" fill="#ff8282"/><rect x="510.09" y="338.00" width="3" height="2.60" fill="#14c0b4"/><rect x="513.83" y="333.00" width="3" height="7.60" fill="#ff8282"/><rect x="517.57" y="333.49" width="3" height="7.11" fill="#14c0b4"/><rect x="521.30" y="331.00" width="3" height="9.60" fill="#ff8282"/><rect x="525.04" y="334.50" width="3" height="6.10" fill="#ff8282"/><rect x="528.77" y="336.50" width="3" height="4.10" fill="#14c0b4"/><rect x="532.51" y="329.52" width="3" height="11.08" fill="#ff8282"/><rect x="536.25" y="327.98" width="3" height="12.62" fill="#ff8282"/><rect x="539.98" y="329.85" width="3" height="10.75" fill="#ff8282"/><rect x="543.72" y="332.65" width="3" height="7.95" fill="#14c0b4"/><rect x="547.45" y="332.65" width="3" height="7.95" fill="#14c0b4"/><rect x="551.19" y="312.12" width="3" height="28.48" fill="#ff8282"/><rect x="554.93" y="308.54" width="3" height="32.06" fill="#ff8282"/><rect x="558.66" y="309.32" width="3" height="31.28" fill="#ff8282"/><rect x="562.40" y="319.43" width="3" height="21.17" fill="#ff8282"/><rect x="566.13" y="327.21" width="3" height="13.39" fill="#14c0b4"/><rect x="569.87" y="327.21" width="3" height="13.39" fill="#14c0b4"/><rect x="573.61" y="316.00" width="3" height="24.60" fill="#ff8282"/><rect x="577.34" y="303.87" width="3" height="36.73" fill="#ff8282"/><rect x="581.08" y="273.86" width="3" height="66.74" fill="#ff8282"/><rect x="584.81" y="302.29" width="3" height="38.31" fill="#ff8282"/><path d="M29.65 332.50 C30.27 332.57 32.14 332.80 33.39 332.95 C34.63 333.10 35.88 333.25 37.12 333.40 C38.37 333.55 39.61 333.70 40.86 333.85 C42.10 334.00 43.35 335.14 44.59 334.30 C45.84 333.46 47.08 330.33 48.33 328.80 C49.58 327.27 50.82 325.95 52.07 325.10 C53.31 324.25 54.56 323.93 55.80 323.70 C57.05 323.47 58.29 323.83 59.54 323.70 C60.78 323.57 62.03 322.12 63.27 322.90 C64.52 323.69 65.76 327.00 67.01 328.40 C68.26 329.80 69.50 330.73 70.75 331.30 C71.99 331.87 73.24 331.78 74.48 331.80 C75.73 331.82 76.97 331.22 78.22 331.40 C79.46 331.58 80.71 332.55 81.95 332.90 C83.20 333.25 84.44 333.25 85.69 333.50 C86.94 333.75 88.18 334.30 89.43 334.40 C90.67 334.50 91.92 334.37 93.16 334.10 C94.41 333.83 95.65 333.57 96.90 332.80 C98.14 332.03 99.39 330.32 100.63 329.50 C101.88 328.68 103.12 328.37 104.37 327.90 C105.62 327.43 106.86 326.82 108.11 326.70 C109.35 326.58 110.60 326.95 111.84 327.20 C113.09 327.45 114.33 327.75 115.58 328.20 C116.82 328.65 118.07 329.53 119.31 329.90 C120.56 330.27 121.80 330.60 123.05 330.40 C124.30 330.20 125.54 329.27 126.79 328.70 C128.03 328.13 129.28 327.99 130.52 327.00 C131.77 326.02 133.01 323.69 134.26 322.80 C135.50 321.92 136.75 321.89 137.99 321.70 C139.24 321.52 140.48 321.34 141.73 321.70 C142.98 322.07 144.22 323.10 145.47 323.90 C146.71 324.70 147.96 325.72 149.20 326.50 C150.45 327.28 151.69 327.90 152.94 328.60 C154.18 329.30 155.43 330.23 156.67 330.70 C157.92 331.16 159.16 331.30 160.41 331.40 C161.66 331.50 162.90 331.50 164.15 331.30 C165.39 331.10 166.64 329.82 167.88 330.20 C169.13 330.58 170.37 333.02 171.62 333.60 C172.86 334.18 174.11 333.85 175.35 333.70 C176.60 333.55 177.84 332.98 179.09 332.70 C180.34 332.42 181.58 332.17 182.83 332.00 C184.07 331.83 185.32 331.78 186.56 331.70 C187.81 331.62 189.05 331.43 190.30 331.50 C191.54 331.57 192.79 331.90 194.03 332.10 C195.28 332.30 196.52 332.78 197.77 332.70 C199.02 332.62 200.26 332.92 201.51 331.62 C202.75 330.33 204.00 326.97 205.24 324.93 C206.49 322.90 207.73 320.67 208.98 319.40 C210.22 318.13 211.47 317.91 212.71 317.30 C213.96 316.68 215.20 315.78 216.45 315.73 C217.70 315.68 218.94 315.73 220.19 316.99 C221.43 318.26 222.68 321.37 223.92 323.30 C225.17 325.23 226.41 327.45 227.66 328.57 C228.90 329.68 230.15 329.33 231.39 329.99 C232.64 330.64 233.88 331.83 235.13 332.51 C236.38 333.20 237.62 333.55 238.87 334.09 C240.11 334.64 241.36 335.45 242.60 335.77 C243.85 336.09 245.09 336.11 246.34 336.02 C247.58 335.93 248.83 335.50 250.07 335.22 C251.32 334.93 252.56 334.69 253.81 334.31 C255.06 333.93 256.30 333.21 257.55 332.95 C258.79 332.69 260.04 332.84 261.28 332.76 C262.53 332.68 263.77 332.37 265.02 332.47 C266.26 332.57 267.51 333.19 268.75 333.36 C270.00 333.53 271.24 333.28 272.49 333.50 C273.74 333.73 274.98 334.47 276.23 334.70 C277.47 334.93 278.72 334.82 279.96 334.90 C281.21 334.98 282.45 335.08 283.70 335.20 C284.94 335.32 286.19 335.80 287.43 335.60 C288.68 335.40 289.92 334.60 291.17 334.00 C292.42 333.40 293.66 332.49 294.91 332.00 C296.15 331.52 297.40 331.44 298.64 331.10 C299.89 330.77 301.13 330.36 302.38 330.00 C303.62 329.65 304.87 328.96 306.11 328.99 C307.36 329.02 308.60 329.92 309.85 330.20 C311.10 330.49 312.34 330.68 313.59 330.70 C314.83 330.72 316.08 330.28 317.32 330.30 C318.57 330.32 319.81 330.56 321.06 330.80 C322.30 331.04 323.55 331.40 324.79 331.71 C326.04 332.03 327.28 332.32 328.53 332.70 C329.78 333.08 331.02 333.57 332.27 334.00 C333.51 334.43 334.76 334.98 336.00 335.30 C337.25 335.62 338.49 335.77 339.74 335.90 C340.98 336.03 342.23 336.10 343.47 336.10 C344.72 336.10 345.96 335.93 347.21 335.90 C348.46 335.87 349.70 335.87 350.95 335.90 C352.19 335.93 353.44 336.33 354.68 336.10 C355.93 335.87 357.17 334.92 358.42 334.50 C359.66 334.08 360.91 333.75 362.15 333.60 C363.40 333.45 364.64 333.57 365.89 333.60 C367.14 333.63 368.38 333.70 369.63 333.80 C370.87 333.90 372.12 333.87 373.36 334.20 C374.61 334.53 375.85 335.40 377.10 335.80 C378.34 336.20 379.59 336.57 380.83 336.60 C382.08 336.63 383.32 336.25 384.57 336.00 C385.82 335.75 387.06 335.40 388.31 335.10 C389.55 334.80 390.80 334.40 392.04 334.20 C393.29 334.00 394.53 333.97 395.78 333.90 C397.02 333.83 398.27 333.88 399.51 333.80 C400.76 333.72 402.00 333.40 403.25 333.40 C404.50 333.40 405.74 333.84 406.99 333.80 C408.23 333.77 409.48 333.30 410.72 333.20 C411.97 333.10 413.21 333.10 414.46 333.20 C415.70 333.30 416.95 333.75 418.19 333.80 C419.44 333.85 420.68 333.62 421.93 333.50 C423.18 333.38 424.42 333.17 425.67 333.10 C426.91 333.03 428.16 333.03 429.40 333.10 C430.65 333.17 431.89 333.52 433.14 333.50 C434.38 333.48 435.63 332.88 436.87 333.00 C438.12 333.12 439.36 334.05 440.61 334.20 C441.86 334.35 443.10 333.85 444.35 333.90 C445.59 333.95 446.84 334.67 448.08 334.50 C449.33 334.34 450.57 333.22 451.82 332.90 C453.06 332.59 454.31 332.64 455.55 332.60 C456.80 332.57 458.04 332.54 459.29 332.70 C460.54 332.87 461.78 333.40 463.03 333.60 C464.27 333.80 465.52 333.62 466.76 333.90 C468.01 334.19 469.25 335.03 470.50 335.30 C471.74 335.58 472.99 335.50 474.23 335.56 C475.48 335.63 476.72 335.66 477.97 335.66 C479.22 335.66 480.46 335.58 481.71 335.56 C482.95 335.55 484.20 335.50 485.44 335.56 C486.69 335.63 487.93 335.86 489.18 335.96 C490.42 336.07 491.67 336.09 492.91 336.20 C494.16 336.31 495.40 336.47 496.65 336.60 C497.90 336.73 499.14 336.88 500.39 337.00 C501.63 337.12 502.88 337.27 504.12 337.30 C505.37 337.33 506.61 337.17 507.86 337.20 C509.10 337.23 510.35 337.63 511.59 337.50 C512.84 337.36 514.08 336.70 515.33 336.40 C516.58 336.10 517.82 336.01 519.07 335.70 C520.31 335.38 521.56 334.78 522.80 334.50 C524.05 334.21 525.29 334.13 526.54 334.00 C527.78 333.87 529.03 333.86 530.27 333.70 C531.52 333.53 532.76 333.30 534.01 333.00 C535.26 332.70 536.50 332.12 537.75 331.90 C538.99 331.68 540.24 331.77 541.48 331.67 C542.73 331.57 543.97 331.49 545.22 331.30 C546.46 331.11 547.71 331.24 548.95 330.53 C550.20 329.82 551.44 328.28 552.69 327.05 C553.94 325.82 555.18 324.49 556.43 323.16 C557.67 321.83 558.92 320.18 560.16 319.06 C561.41 317.93 562.65 317.03 563.90 316.41 C565.14 315.79 566.39 315.00 567.63 315.33 C568.88 315.65 570.12 317.59 571.37 318.34 C572.62 319.10 573.86 319.77 575.11 319.84 C576.35 319.90 577.60 320.45 578.84 318.75 C580.09 317.05 581.33 311.98 582.58 309.63 C583.82 307.28 585.69 305.48 586.31 304.65" fill="none" stroke="#ff1a1a" stroke-width="1.4" stroke-linejoin="round"/><path d="M29.65 333.00 C30.27 333.04 32.14 333.16 33.39 333.25 C34.63 333.33 35.88 333.41 37.12 333.49 C38.37 333.58 39.61 333.66 40.86 333.74 C42.10 333.83 43.35 334.41 44.59 333.99 C45.84 333.58 47.08 332.00 48.33 331.28 C49.58 330.55 50.82 330.02 52.07 329.66 C53.31 329.29 54.56 329.18 55.80 329.09 C57.05 329.00 58.29 329.20 59.54 329.12 C60.78 329.04 62.03 328.69 63.27 328.60 C64.52 328.51 65.76 328.67 67.01 328.60 C68.26 328.53 69.50 328.34 70.75 328.20 C71.99 328.06 73.24 327.86 74.48 327.75 C75.73 327.64 76.97 327.52 78.22 327.55 C79.46 327.58 80.71 327.33 81.95 327.90 C83.20 328.47 84.44 330.13 85.69 330.95 C86.94 331.78 88.18 332.52 89.43 332.85 C90.67 333.18 91.92 333.08 93.16 332.95 C94.41 332.82 95.65 332.39 96.90 332.10 C98.14 331.81 99.39 331.43 100.63 331.20 C101.88 330.97 103.12 330.81 104.37 330.70 C105.62 330.59 106.86 330.56 108.11 330.55 C109.35 330.54 110.60 330.66 111.84 330.65 C113.09 330.64 114.33 330.66 115.58 330.50 C116.82 330.34 118.07 329.93 119.31 329.70 C120.56 329.48 121.80 329.48 123.05 329.15 C124.30 328.82 125.54 328.04 126.79 327.70 C128.03 327.36 129.28 327.47 130.52 327.10 C131.77 326.73 133.01 325.72 134.26 325.50 C135.50 325.29 136.75 325.71 137.99 325.80 C139.24 325.89 140.48 325.97 141.73 326.05 C142.98 326.13 144.22 326.18 145.47 326.30 C146.71 326.42 147.96 326.85 149.20 326.75 C150.45 326.65 151.69 325.79 152.94 325.70 C154.18 325.61 155.43 326.06 156.67 326.20 C157.92 326.34 159.16 326.32 160.41 326.55 C161.66 326.78 162.90 327.30 164.15 327.60 C165.39 327.90 166.64 327.77 167.88 328.35 C169.13 328.93 170.37 330.46 171.62 331.10 C172.86 331.74 174.11 332.04 175.35 332.20 C176.60 332.36 177.84 332.14 179.09 332.05 C180.34 331.96 181.58 331.83 182.83 331.65 C184.07 331.47 185.32 330.80 186.56 330.95 C187.81 331.10 189.05 332.22 190.30 332.55 C191.54 332.87 192.79 332.88 194.03 332.90 C195.28 332.93 196.52 332.88 197.77 332.70 C199.02 332.52 200.26 332.54 201.51 331.81 C202.75 331.08 204.00 329.38 205.24 328.32 C206.49 327.26 207.73 326.05 208.98 325.45 C210.22 324.85 211.47 324.90 212.71 324.70 C213.96 324.49 215.20 324.28 216.45 324.22 C217.70 324.15 218.94 324.33 220.19 324.31 C221.43 324.29 222.68 324.17 223.92 324.12 C225.17 324.06 226.41 324.06 227.66 323.98 C228.90 323.90 230.15 323.62 231.39 323.64 C232.64 323.66 233.88 323.81 235.13 324.12 C236.38 324.44 237.62 324.64 238.87 325.54 C240.11 326.45 241.36 328.41 242.60 329.53 C243.85 330.66 245.09 331.78 246.34 332.29 C247.58 332.81 248.83 332.42 250.07 332.60 C251.32 332.79 252.56 333.26 253.81 333.41 C255.06 333.57 256.30 333.38 257.55 333.52 C258.79 333.66 260.04 334.14 261.28 334.26 C262.53 334.38 263.77 334.24 265.02 334.25 C266.26 334.25 267.51 334.35 268.75 334.29 C270.00 334.23 271.24 333.98 272.49 333.91 C273.74 333.83 274.98 333.84 276.23 333.82 C277.47 333.81 278.72 333.83 279.96 333.83 C281.21 333.83 282.45 333.73 283.70 333.84 C284.94 333.94 286.19 334.49 287.43 334.48 C288.68 334.47 289.92 333.94 291.17 333.75 C292.42 333.56 293.66 333.48 294.91 333.35 C296.15 333.23 297.40 333.13 298.64 333.00 C299.89 332.88 301.13 332.72 302.38 332.60 C303.62 332.48 304.87 332.38 306.11 332.30 C307.36 332.21 308.60 332.26 309.85 332.10 C311.10 331.94 312.34 331.59 313.59 331.35 C314.83 331.12 316.08 330.86 317.32 330.70 C318.57 330.54 319.81 330.46 321.06 330.40 C322.30 330.34 323.55 330.18 324.79 330.35 C326.04 330.53 327.28 331.12 328.53 331.45 C329.78 331.78 331.02 332.13 332.27 332.35 C333.51 332.57 334.76 332.63 336.00 332.80 C337.25 332.97 338.49 333.17 339.74 333.35 C340.98 333.53 342.23 333.75 343.47 333.91 C344.72 334.07 345.96 334.13 347.21 334.30 C348.46 334.47 349.70 334.72 350.95 334.95 C352.19 335.18 353.44 335.66 354.68 335.70 C355.93 335.74 357.17 335.34 358.42 335.20 C359.66 335.06 360.91 334.93 362.15 334.85 C363.40 334.78 364.64 334.75 365.89 334.75 C367.14 334.75 368.38 334.78 369.63 334.85 C370.87 334.92 372.12 335.10 373.36 335.15 C374.61 335.20 375.85 335.16 377.10 335.15 C378.34 335.14 379.59 335.16 380.83 335.10 C382.08 335.04 383.32 334.91 384.57 334.80 C385.82 334.69 387.06 334.55 388.31 334.45 C389.55 334.35 390.80 334.13 392.04 334.20 C393.29 334.27 394.53 334.68 395.78 334.85 C397.02 335.02 398.27 335.23 399.51 335.20 C400.76 335.18 402.00 334.83 403.25 334.70 C404.50 334.58 405.74 334.62 406.99 334.45 C408.23 334.28 409.48 333.85 410.72 333.70 C411.97 333.55 413.21 333.53 414.46 333.55 C415.70 333.57 416.95 333.82 418.19 333.80 C419.44 333.78 420.68 333.51 421.93 333.45 C423.18 333.39 424.42 333.50 425.67 333.45 C426.91 333.40 428.16 333.17 429.40 333.15 C430.65 333.13 431.89 333.31 433.14 333.35 C434.38 333.39 435.63 333.32 436.87 333.40 C438.12 333.48 439.36 333.83 440.61 333.85 C441.86 333.87 443.10 333.51 444.35 333.50 C445.59 333.49 446.84 333.85 448.08 333.80 C449.33 333.75 450.57 333.37 451.82 333.20 C453.06 333.03 454.31 332.76 455.55 332.80 C456.80 332.84 458.04 333.29 459.29 333.45 C460.54 333.61 461.78 333.63 463.03 333.75 C464.27 333.88 465.52 334.14 466.76 334.20 C468.01 334.26 469.25 334.12 470.50 334.10 C471.74 334.08 472.99 334.07 474.23 334.08 C475.48 334.10 476.72 334.10 477.97 334.18 C479.22 334.27 480.46 334.49 481.71 334.58 C482.95 334.68 484.20 334.56 485.44 334.73 C486.69 334.91 487.93 335.44 489.18 335.63 C490.42 335.82 491.67 335.80 492.91 335.88 C494.16 335.97 495.40 336.07 496.65 336.13 C497.90 336.20 499.14 336.23 500.39 336.28 C501.63 336.33 502.88 336.38 504.12 336.43 C505.37 336.48 506.61 336.51 507.86 336.58 C509.10 336.65 510.35 336.86 511.59 336.85 C512.84 336.84 514.08 336.58 515.33 336.50 C516.58 336.42 517.82 336.45 519.07 336.35 C520.31 336.25 521.56 336.02 522.80 335.90 C524.05 335.77 525.29 335.65 526.54 335.60 C527.78 335.55 529.03 335.75 530.27 335.60 C531.52 335.45 532.76 335.00 534.01 334.70 C535.26 334.40 536.50 334.07 537.75 333.80 C538.99 333.53 540.24 333.28 541.48 333.08 C542.73 332.89 543.97 332.81 545.22 332.65 C546.46 332.49 547.71 332.55 548.95 332.11 C550.20 331.68 551.44 330.79 552.69 330.03 C553.94 329.26 555.18 328.31 556.43 327.53 C557.67 326.75 558.92 325.98 560.16 325.36 C561.41 324.75 562.65 324.26 563.90 323.86 C565.14 323.45 566.39 323.12 567.63 322.93 C568.88 322.73 570.12 322.93 571.37 322.70 C572.62 322.46 573.86 322.13 575.11 321.50 C576.35 320.87 577.60 320.31 578.84 318.90 C580.09 317.49 581.33 314.51 582.58 313.02 C583.82 311.54 585.69 310.49 586.31 309.99" fill="none" stroke="#2222ee" stroke-width="1.4" stroke-linejoin="round"/><rect x="25" y="102" width="96.5" height="33" fill="#fff" stroke="#ececec" stroke-width="0.6"/><rect x="25" y="273" width="95.5" height="24.5" fill="#fff" stroke="#ececec" stroke-width="0.6"/><text x="28.3" y="111.1" font-size="7.8" fill="#e43a3a" text-anchor="start" font-weight="normal" font-family="Liberation Serif" textLength="7" lengthAdjust="spacingAndGlyphs" stroke="#e43a3a" stroke-width="0.1">M5</text><text x="113" y="111.1" font-size="7.8" fill="#e43a3a" text-anchor="end" font-weight="normal" font-family="Liberation Serif" textLength="13.5" lengthAdjust="spacingAndGlyphs" stroke="#e43a3a" stroke-width="0.1">175.2</text><path d="M116.7 111.5 V105.7 M115.5 107.2 L116.7 105.5 L117.9 107.2" stroke="#e43a3a" stroke-width="0.65" fill="none"/><text x="28.3" y="119.1" font-size="7.8" fill="#3a3ad8" text-anchor="start" font-weight="normal" font-family="Liberation Serif" textLength="11" lengthAdjust="spacingAndGlyphs" stroke="#3a3ad8" stroke-width="0.1">M10</text><text x="113" y="119.1" font-size="7.8" fill="#3a3ad8" text-anchor="end" font-weight="normal" font-family="Liberation Serif" textLength="13.5" lengthAdjust="spacingAndGlyphs" stroke="#3a3ad8" stroke-width="0.1">165.5</text><path d="M116.7 119.5 V113.7 M115.5 115.2 L116.7 113.5 L117.9 115.2" stroke="#3a3ad8" stroke-width="0.65" fill="none"/><text x="28.3" y="126.6" font-size="7.8" fill="#30b430" text-anchor="start" font-weight="normal" font-family="Liberation Serif" textLength="11.5" lengthAdjust="spacingAndGlyphs" stroke="#30b430" stroke-width="0.1">M20</text><text x="113" y="126.6" font-size="7.8" fill="#30b430" text-anchor="end" font-weight="normal" font-family="Liberation Serif" textLength="17.5" lengthAdjust="spacingAndGlyphs" stroke="#30b430" stroke-width="0.1">151.22</text><path d="M116.7 127 V121.2 M115.5 122.7 L116.7 121 L117.9 122.7" stroke="#30b430" stroke-width="0.65" fill="none"/><text x="28.3" y="133.6" font-size="7.8" fill="#eba055" text-anchor="start" font-weight="normal" font-family="Liberation Serif" textLength="12" lengthAdjust="spacingAndGlyphs" stroke="#eba055" stroke-width="0.1">M60</text><text x="113" y="133.6" font-size="7.8" fill="#eba055" text-anchor="end" font-weight="normal" font-family="Liberation Serif" textLength="17.5" lengthAdjust="spacingAndGlyphs" stroke="#eba055" stroke-width="0.1">135.26</text><path d="M116.7 134 V128.2 M115.5 129.7 L116.7 128 L117.9 129.7" stroke="#eba055" stroke-width="0.65" fill="none"/><text x="28.5" y="280.8" font-size="7" fill="#2b2b5e" text-anchor="start" font-weight="normal" font-family="Liberation Sans" textLength="12" lengthAdjust="spacingAndGlyphs" stroke="#2b2b5e" stroke-width="0.1">VOL.</text><text x="113" y="280.90000000000003" font-size="7.8" fill="#2b2b5e" text-anchor="end" font-weight="normal" font-family="Liberation Serif" textLength="14" lengthAdjust="spacingAndGlyphs" stroke="#2b2b5e" stroke-width="0.1">34943</text><path d="M116.7 275.3 V281.1 M115.5 279.6 L116.7 281.3 L117.9 279.6" stroke="#2b2b5e" stroke-width="0.65" fill="none"/><text x="28.5" y="288.3" font-size="7" fill="#e02020" text-anchor="start" font-weight="normal" font-family="Liberation Sans" textLength="3.3" lengthAdjust="spacingAndGlyphs" stroke="#e02020" stroke-width="0.1">5</text><text x="113" y="288.40000000000003" font-size="7.8" fill="#e02020" text-anchor="end" font-weight="normal" font-family="Liberation Serif" textLength="14" lengthAdjust="spacingAndGlyphs" stroke="#e02020" stroke-width="0.1">32793</text><path d="M116.7 288.8 V283.0 M115.5 284.5 L116.7 282.8 L117.9 284.5" stroke="#e02020" stroke-width="0.65" fill="none"/><text x="28.5" y="295.9" font-size="7" fill="#2020d0" text-anchor="start" font-weight="normal" font-family="Liberation Sans" textLength="6.6" lengthAdjust="spacingAndGlyphs" stroke="#2020d0" stroke-width="0.1">10</text><text x="113" y="296.0" font-size="7.8" fill="#2020d0" text-anchor="end" font-weight="normal" font-family="Liberation Serif" textLength="14" lengthAdjust="spacingAndGlyphs" stroke="#2020d0" stroke-width="0.1">27903</text><path d="M116.7 296.4 V290.59999999999997 M115.5 292.09999999999997 L116.7 290.4 L117.9 292.09999999999997" stroke="#2020d0" stroke-width="0.65" fill="none"/><text stroke="#2b2b5e" stroke-width="0.3" x="2" y="97.7" font-size="6.7" fill="#2b2b5e" text-anchor="start" font-weight="bold" font-family="Liberation Serif" textLength="31" lengthAdjust="spacingAndGlyphs">2023/05/29</text><text x="41" y="97.8" font-size="7.2" fill="#2b2b5e" text-anchor="start" font-weight="normal" font-family="Liberation Serif" textLength="11.4" lengthAdjust="spacingAndGlyphs" stroke="#2b2b5e" stroke-width="0.1">2376</text><path transform="translate(54,92.6) scale(0.54)" d="M1 3H4M2.5 0.5V9.5L1.5 8.5M1 6.5L4 5M4.5 2.5H9.5M7 0.5V4.5M5 4.5H9L5.5 9.5M6 6L9.5 9.5" fill="none" stroke="#2b2b5e" stroke-width="1.019" stroke-linecap="square"/><path transform="translate(59.5,92.6) scale(0.54)" d="M1 1H9M5 0V2.5M2 2.5H8M3 3.5H7V5H3ZM1 6H9M3 6L2 9.5M2.5 7H5V9.5M6 7H8.5V9.5H6Z" fill="none" stroke="#2b2b5e" stroke-width="1.019" stroke-linecap="square"/><path transform="translate(141.5,92.8) scale(0.54)" d="M1 0.5V9.5M1 0.5H4V3.5H1M1 2H4M9 0.5V9.5L8 9M9 0.5H6V3.5H9M6 2H9M3 5H7M2.5 7H7.5M4 5L3 9M6 5V9" fill="none" stroke="#2b2b5e" stroke-width="1.019" stroke-linecap="square"/><text x="150" y="97.9" font-size="7.1" fill="#e01010" text-anchor="start" font-weight="bold" font-family="Liberation Serif" textLength="10" lengthAdjust="spacingAndGlyphs">188</text><path transform="translate(206,92.8) scale(0.54)" d="M5 0V1M1 1.5H9M3 2.5H7V4.5H3ZM1.5 9.5V5.5H8.5V9.5M3.5 6.5H6.5V8.5H3.5Z" fill="none" stroke="#2b2b5e" stroke-width="1.019" stroke-linecap="square"/><text x="213.8" y="97.9" font-size="7.1" fill="#e01010" text-anchor="start" font-weight="bold" font-family="Liberation Serif" textLength="15" lengthAdjust="spacingAndGlyphs">191.5</text><path transform="translate(270.2,92.8) scale(0.54)" d="M3 0.5L1 4M2.2 2.5V9.5M8.5 0.5L4.5 1.5M4.5 1.5V7L6 6.5M4.5 4H9.5M6.5 1.5Q7 7 9.5 9M5 9.5H8" fill="none" stroke="#2b2b5e" stroke-width="1.019" stroke-linecap="square"/><text x="278" y="97.9" font-size="7.1" fill="#109010" text-anchor="start" font-weight="bold" font-family="Liberation Serif" textLength="16" lengthAdjust="spacingAndGlyphs">178.5</text><path transform="translate(334.3,92.8) scale(0.54)" d="M1.5 1V7H4M3.5 0.5V9.5M6 0.5L5 4M5.5 2.5H9.5M8.5 2.5L5 9.5M6 4.5L9.5 9.5" fill="none" stroke="#2b2b5e" stroke-width="1.019" stroke-linecap="square"/><text x="342.5" y="97.9" font-size="7.1" fill="#e01010" text-anchor="start" font-weight="bold" font-family="Liberation Serif" textLength="10" lengthAdjust="spacingAndGlyphs">186</text><text x="399" y="97.8" font-size="7" fill="#e01010" text-anchor="start" font-weight="bold" font-family="Liberation Serif" textLength="5" lengthAdjust="spacingAndGlyphs">Δ</text><text x="404.5" y="97.8" font-size="7" fill="#e01010" text-anchor="start" font-weight="bold" font-family="Liberation Serif" textLength="3" lengthAdjust="spacingAndGlyphs">1</text><text x="451.7" y="97.9" font-size="7.4" fill="#2b2b5e" text-anchor="start" font-weight="normal" font-family="Liberation Serif" textLength="18.3" lengthAdjust="spacingAndGlyphs" stroke="#2b2b5e" stroke-width="0.1">(0.54%)</text><path transform="translate(499.2,92.8) scale(0.54)" d="M3 0.5H7V3H3ZM3 1.75H7M1 4H9M2.5 5H7.5V7.5H2.5ZM2.5 6.25H7.5M5 5V9.5M2 8.5H8M1 9.5H9" fill="none" stroke="#2b2b5e" stroke-width="1.019" stroke-linecap="square"/><text x="507.3" y="97.9" font-size="7.4" fill="#2b2b5e" text-anchor="start" font-weight="normal" font-family="Liberation Serif" textLength="13.3" lengthAdjust="spacingAndGlyphs" stroke="#2b2b5e" stroke-width="0.1">34943</text><path d="M523 92.5 V98 M521.8 96.6 L523 98.2 L524.2 96.6" stroke="#2b2b5e" stroke-width="0.6" fill="none"/><path transform="translate(526.8,92.8) scale(0.54)" d="M1 1H3.5V3.5H1.5V5.5H3.5V9L2.5 8.5M5 0.5V6M5 0.5H9M5 2H8.5M5 3.5H8.5M4 6H9.5M6 6L5 9.5M6.5 6.5L9.5 9.5" fill="none" stroke="#2b2b5e" stroke-width="1.019" stroke-linecap="square"/><path transform="translate(581,92.8) scale(0.54)" d="M2 0.5H8V9.5H2ZM2 5H8" fill="none" stroke="#2b2b5e" stroke-width="1.019" stroke-linecap="square"/><path transform="translate(586.5,92.8) scale(0.54)" d="M3 0.5L1.5 3L4 4.5L1.5 6H4.5M3 6V9.5M1.5 8.5L2 7.5M4 7.5L4.5 8.5M7 0L6.5 1M5.5 1H9V4H5.5ZM5.5 2.5H9M7.25 4V9.5L6.5 9M5.5 5.5L6.5 7L5 9M9.5 5.5L8 7L9.5 9.5" fill="none" stroke="#2b2b5e" stroke-width="1.019" stroke-linecap="square"/><rect x="0" y="347.2" width="19.6" height="6.5" fill="#1414ff"/><text x="1" y="353.2" font-size="6.8" fill="#fff" text-anchor="start" font-weight="normal" font-family="Liberation Sans" textLength="18" lengthAdjust="spacingAndGlyphs">CMoney</text></svg></body></html>
